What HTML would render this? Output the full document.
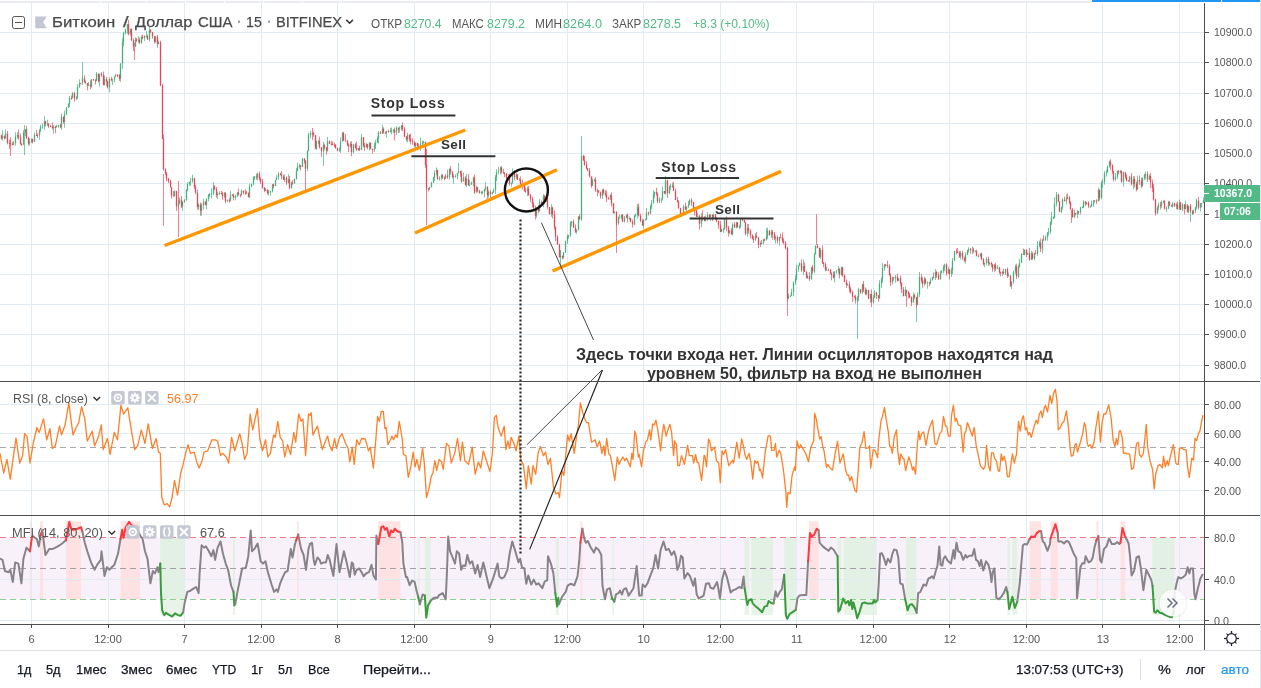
<!DOCTYPE html><html><head><meta charset="utf-8"><title>BTCUSD chart</title><style>
html,body{margin:0;padding:0;background:#fff}
#c{position:relative;width:1261px;height:688px;overflow:hidden;background:#fff;font-family:"Liberation Sans", sans-serif}
#c svg{position:absolute;left:0;top:0}
.t{position:absolute;white-space:nowrap;line-height:20px;height:20px;transform-origin:0 50%}
.b{position:absolute;background:#53b987;z-index:2}
</style></head><body><div id="c">
<svg width="1261" height="688" viewBox="0 0 1261 688">
<rect x="0" y="537.5" width="1204" height="62" fill="#f8f1f9"/>
<rect x="30.0" y="521.3" width="2.0" height="16.2" fill="#ffe4e4"/><rect x="30.0" y="537.5" width="2.0" height="62" fill="#fee1e3"/>
<rect x="40.0" y="521.3" width="3.0" height="16.2" fill="#ffe4e4"/><rect x="40.0" y="537.5" width="3.0" height="62" fill="#fee1e3"/>
<rect x="66.0" y="521.3" width="15.0" height="16.2" fill="#ffe4e4"/><rect x="66.0" y="537.5" width="15.0" height="62" fill="#fee1e3"/>
<rect x="120.5" y="521.3" width="19.5" height="16.2" fill="#ffe4e4"/><rect x="120.5" y="537.5" width="19.5" height="62" fill="#fee1e3"/>
<rect x="297.0" y="521.3" width="1.7" height="16.2" fill="#ffe4e4"/><rect x="297.0" y="537.5" width="1.7" height="62" fill="#fee1e3"/>
<rect x="378.3" y="521.3" width="22.2" height="16.2" fill="#ffe4e4"/><rect x="378.3" y="537.5" width="22.2" height="62" fill="#fee1e3"/>
<rect x="580.4" y="521.3" width="2.0" height="16.2" fill="#ffe4e4"/><rect x="580.4" y="537.5" width="2.0" height="62" fill="#fee1e3"/>
<rect x="808.8" y="521.3" width="9.8" height="16.2" fill="#ffe4e4"/><rect x="808.8" y="537.5" width="9.8" height="62" fill="#fee1e3"/>
<rect x="1029.6" y="521.3" width="11.4" height="16.2" fill="#ffe4e4"/><rect x="1029.6" y="537.5" width="11.4" height="62" fill="#fee1e3"/>
<rect x="1050.5" y="521.3" width="7.3" height="16.2" fill="#ffe4e4"/><rect x="1050.5" y="537.5" width="7.3" height="62" fill="#fee1e3"/>
<rect x="1096.4" y="521.3" width="2.0" height="16.2" fill="#ffe4e4"/><rect x="1096.4" y="537.5" width="2.0" height="62" fill="#fee1e3"/>
<rect x="1120.5" y="521.3" width="4.9" height="16.2" fill="#ffe4e4"/><rect x="1120.5" y="537.5" width="4.9" height="62" fill="#fee1e3"/>
<rect x="160.3" y="537.5" width="23.7" height="62" fill="#e3f0e4"/><rect x="160.3" y="599.5" width="23.7" height="15.5" fill="#e8f4e8"/>
<rect x="233.0" y="537.5" width="2.0" height="62" fill="#e3f0e4"/><rect x="233.0" y="599.5" width="2.0" height="15.5" fill="#e8f4e8"/>
<rect x="418.0" y="537.5" width="1.5" height="62" fill="#e3f0e4"/><rect x="418.0" y="599.5" width="1.5" height="15.5" fill="#e8f4e8"/>
<rect x="425.0" y="537.5" width="5.5" height="62" fill="#e3f0e4"/><rect x="425.0" y="599.5" width="5.5" height="15.5" fill="#e8f4e8"/>
<rect x="555.8" y="537.5" width="3.2" height="62" fill="#e3f0e4"/><rect x="555.8" y="599.5" width="3.2" height="15.5" fill="#e8f4e8"/>
<rect x="612.4" y="537.5" width="1.6" height="62" fill="#e3f0e4"/><rect x="612.4" y="599.5" width="1.6" height="15.5" fill="#e8f4e8"/>
<rect x="744.6" y="537.5" width="4.4" height="62" fill="#e3f0e4"/><rect x="744.6" y="599.5" width="4.4" height="15.5" fill="#e8f4e8"/>
<rect x="751.5" y="537.5" width="21.5" height="62" fill="#e3f0e4"/><rect x="751.5" y="599.5" width="21.5" height="15.5" fill="#e8f4e8"/>
<rect x="784.2" y="537.5" width="11.6" height="62" fill="#e3f0e4"/><rect x="784.2" y="599.5" width="11.6" height="15.5" fill="#e8f4e8"/>
<rect x="837.5" y="537.5" width="3.7" height="62" fill="#e3f0e4"/><rect x="837.5" y="599.5" width="3.7" height="15.5" fill="#e8f4e8"/>
<rect x="843.7" y="537.5" width="33.2" height="62" fill="#e3f0e4"/><rect x="843.7" y="599.5" width="33.2" height="15.5" fill="#e8f4e8"/>
<rect x="905.6" y="537.5" width="10.6" height="62" fill="#e3f0e4"/><rect x="905.6" y="599.5" width="10.6" height="15.5" fill="#e8f4e8"/>
<rect x="1007.4" y="537.5" width="2.6" height="62" fill="#e3f0e4"/><rect x="1007.4" y="599.5" width="2.6" height="15.5" fill="#e8f4e8"/>
<rect x="1012.3" y="537.5" width="5.0" height="62" fill="#e3f0e4"/><rect x="1012.3" y="599.5" width="5.0" height="15.5" fill="#e8f4e8"/>
<rect x="1152.5" y="537.5" width="22.1" height="62" fill="#e3f0e4"/><rect x="1152.5" y="599.5" width="22.1" height="15.5" fill="#e8f4e8"/>
<path d="M31.5 3V624M108.5 3V624M184.5 3V624M261.5 3V624M337.5 3V624M414.5 3V624M490.5 3V624M567.5 3V624M643.5 3V624M720.5 3V624M796.5 3V624M873.5 3V624M949.5 3V624M1026.5 3V624M1102.5 3V624M1179.5 3V624M0 32.5H1204M0 62.5H1204M0 93.5H1204M0 123.5H1204M0 153.5H1204M0 183.5H1204M0 214.5H1204M0 244.5H1204M0 274.5H1204M0 304.5H1204M0 334.5H1204M0 365.5H1204M0 404.5H1204M0 433.5H1204M0 461.5H1204M0 490.5H1204M0 579.5H1204M0 620.5H1204" stroke="#e1ecf2" stroke-width="1" fill="none" shape-rendering="crispEdges"/>
<path d="M0 447.5H1204" stroke="#a9a9a9" stroke-width="1" stroke-dasharray="6 4" fill="none"/>
<path d="M0 537.5H1204" stroke="#e57f86" stroke-width="1" stroke-dasharray="6 4" fill="none"/>
<path d="M0 568.5H1204" stroke="#a79fa8" stroke-width="1" stroke-dasharray="6 4" fill="none"/>
<path d="M0 599.5H1204" stroke="#8fcf93" stroke-width="1" stroke-dasharray="6 4" fill="none"/>
<path d="M2.5 130.1V140.6M5.5 129.4V138.7M13.5 141.0V145.2M15.5 132.3V145.7M17.5 132.1V138.7M23.5 129.9V145.0M25.5 128.9V136.1M29.5 138.0V145.7M31.5 138.3V143.0M34.5 132.7V142.0M39.5 129.2V139.7M40.5 124.8V132.1M42.5 123.6V128.8M44.5 116.1V129.9M47.5 119.7V126.0M53.5 125.1V133.8M56.5 125.1V127.5M58.5 124.9V127.8M61.5 113.4V129.9M64.5 110.5V127.6M66.5 107.0V115.0M68.5 103.5V107.8M69.5 95.8V107.0M72.5 92.1V98.3M76.5 96.1V100.2M77.5 84.3V99.0M79.5 79.4V87.9M82.5 76.4V85.0M88.5 81.8V86.2M91.5 79.0V87.6M96.5 72.1V81.0M99.5 73.4V86.6M104.5 75.6V85.5M109.5 77.3V92.4M112.5 78.6V85.0M114.5 76.5V82.4M115.5 73.8V76.8M120.5 63.2V81.8M122.5 38.3V68.8M123.5 31.9V46.4M125.5 28.9V34.4M127.5 23.8V33.7M130.5 28.5V35.5M135.5 37.2V47.3M138.5 36.1V43.3M141.5 35.3V43.9M144.5 35.2V41.0M146.5 31.0V37.5M149.5 26.4V41.4M155.5 36.1V42.7M158.5 40.7V44.0M174.5 190.5V196.7M178.5 200.9V207.5M179.5 197.3V204.3M182.5 201.1V210.7M184.5 199.1V202.7M186.5 189.0V200.8M187.5 182.0V191.4M189.5 181.8V185.7M190.5 177.8V186.0M192.5 174.7V182.7M198.5 203.3V210.2M201.5 203.1V215.8M203.5 198.6V209.6M206.5 198.2V209.4M208.5 194.0V201.3M209.5 192.8V197.0M211.5 188.4V198.5M213.5 182.5V195.2M217.5 192.2V199.0M219.5 191.0V195.1M224.5 192.1V197.9M227.5 199.4V201.9M230.5 190.7V201.5M235.5 194.8V200.2M237.5 192.0V197.1M241.5 189.4V195.6M249.5 183.7V198.3M251.5 183.8V187.2M253.5 176.3V185.4M254.5 176.2V180.0M257.5 172.6V180.5M265.5 188.1V191.0M268.5 189.9V195.5M270.5 190.4V195.8M272.5 184.0V192.4M275.5 179.8V186.0M276.5 175.2V180.1M278.5 171.8V179.7M284.5 174.5V182.1M288.5 174.2V183.4M291.5 181.7V188.9M294.5 178.4V184.0M296.5 167.9V179.5M297.5 162.5V171.0M299.5 164.2V168.9M302.5 158.0V167.2M307.5 150.2V170.9M308.5 132.9V151.4M310.5 131.1V138.1M316.5 140.5V149.9M318.5 139.9V144.4M323.5 142.0V151.3M327.5 137.0V151.7M339.5 147.5V151.8M340.5 137.6V153.0M342.5 132.0V141.7M350.5 141.3V147.4M353.5 144.2V153.3M358.5 148.0V150.9M361.5 134.0V150.2M366.5 142.7V147.7M369.5 142.2V150.6M374.5 142.6V151.8M375.5 139.9V149.0M377.5 136.3V142.8M378.5 130.9V143.6M382.5 124.8V134.1M386.5 130.8V137.5M390.5 127.8V132.7M391.5 127.5V134.3M393.5 129.1V133.0M396.5 126.0V135.1M399.5 126.4V132.7M401.5 125.2V130.8M407.5 132.7V142.3M415.5 142.5V148.7M420.5 137.7V150.9M422.5 140.7V145.4M423.5 140.5V143.6M429.5 186.4V190.1M431.5 181.6V187.4M433.5 176.9V182.9M434.5 170.6V180.8M436.5 167.5V175.6M439.5 176.2V180.6M441.5 173.9V180.5M445.5 173.9V178.9M449.5 168.2V179.7M453.5 174.3V183.7M455.5 174.4V177.5M457.5 173.0V179.3M458.5 170.8V173.4M463.5 172.6V181.5M466.5 174.0V187.0M469.5 180.2V186.3M471.5 181.5V184.8M473.5 176.7V186.5M476.5 185.6V192.7M481.5 191.1V194.4M482.5 190.7V194.1M484.5 188.9V197.3M485.5 181.7V190.7M488.5 190.4V197.6M492.5 191.7V194.3M493.5 188.4V192.5M495.5 175.1V194.0M496.5 169.2V181.0M498.5 166.9V174.2M500.5 166.5V174.5M508.5 173.9V178.9M511.5 182.7V186.7M512.5 168.4V183.7M516.5 172.6V179.0M519.5 178.1V180.4M527.5 186.4V196.0M536.5 207.0V217.8M539.5 199.2V211.8M543.5 194.2V207.3M546.5 196.3V201.9M551.5 204.2V216.8M560.5 250.7V258.2M563.5 252.0V258.8M565.5 240.7V252.9M567.5 234.3V243.9M568.5 234.7V238.5M570.5 221.2V236.6M571.5 221.2V226.4M576.5 229.4V233.8M578.5 216.1V230.3M581.5 155.8V220.9M592.5 178.5V185.8M594.5 178.7V181.9M602.5 188.9V199.0M610.5 194.2V200.0M614.5 211.4V213.6M618.5 216.5V224.8M619.5 214.5V218.2M621.5 214.2V219.2M624.5 216.0V222.5M626.5 214.5V218.2M629.5 216.4V220.2M634.5 215.0V225.2M635.5 213.3V216.8M637.5 203.9V218.7M643.5 219.4V228.6M645.5 218.4V220.2M646.5 208.0V219.8M650.5 205.2V214.2M651.5 200.1V208.8M653.5 190.4V203.6M654.5 191.4V197.8M659.5 197.2V203.2M661.5 198.3V203.0M662.5 186.6V200.7M665.5 176.1V194.5M669.5 185.4V194.4M670.5 184.0V189.6M672.5 182.6V187.9M681.5 212.9V217.0M683.5 204.9V214.9M686.5 206.3V210.8M688.5 201.1V208.0M689.5 198.9V204.8M697.5 213.4V216.8M701.5 213.0V227.5M705.5 215.5V221.6M707.5 211.9V221.3M710.5 214.0V221.1M713.5 213.2V218.2M721.5 229.1V232.2M723.5 227.8V232.9M724.5 218.7V229.5M729.5 230.1V234.2M732.5 222.6V235.6M736.5 221.8V228.4M739.5 225.4V229.1M740.5 218.1V228.1M747.5 224.0V236.7M755.5 233.2V241.0M760.5 241.4V247.0M763.5 238.9V244.5M766.5 228.3V240.6M767.5 227.6V238.9M771.5 229.7V237.7M775.5 235.5V243.5M779.5 236.9V245.4M788.5 293.5V298.5M790.5 295.4V297.2M791.5 288.8V295.9M793.5 281.4V296.4M795.5 275.1V285.1M796.5 264.6V280.0M798.5 265.3V271.6M799.5 262.4V266.1M803.5 259.4V275.0M807.5 274.3V278.9M811.5 266.7V279.9M814.5 252.7V273.2M815.5 245.4V254.5M820.5 247.7V259.0M826.5 266.8V271.0M834.5 271.3V282.4M836.5 270.3V273.6M838.5 266.1V273.6M841.5 266.7V275.5M847.5 283.4V285.4M857.5 296.1V302.2M858.5 287.8V301.3M862.5 283.7V293.9M866.5 288.7V295.3M870.5 294.0V302.7M873.5 295.2V303.5M874.5 290.0V298.1M879.5 280.2V299.0M881.5 277.2V288.1M882.5 263.0V282.5M884.5 264.3V270.7M892.5 276.9V284.7M895.5 274.9V282.8M898.5 278.0V281.0M905.5 286.4V296.2M913.5 292.3V302.4M917.5 292.4V305.1M919.5 271.9V297.2M924.5 276.7V285.7M927.5 281.5V288.7M930.5 277.9V284.4M932.5 276.6V280.3M935.5 269.1V280.0M940.5 270.5V279.5M941.5 270.5V273.3M943.5 265.1V273.4M944.5 263.7V271.2M948.5 266.7V274.0M951.5 267.4V277.0M952.5 257.9V274.4M954.5 250.6V261.2M960.5 250.8V259.5M965.5 252.4V263.7M967.5 249.8V255.2M968.5 247.3V252.4M972.5 246.4V254.2M975.5 250.2V251.6M978.5 253.8V257.3M980.5 253.5V257.3M984.5 262.7V267.2M986.5 257.2V265.3M989.5 261.7V265.7M994.5 263.8V272.1M997.5 265.1V269.1M1002.5 270.9V276.1M1005.5 268.7V275.1M1008.5 272.6V276.2M1011.5 281.4V289.0M1013.5 270.5V283.8M1015.5 264.6V273.7M1018.5 264.7V278.1M1019.5 258.7V267.7M1021.5 253.2V262.8M1024.5 249.5V255.3M1027.5 252.7V255.0M1031.5 250.9V260.1M1034.5 252.7V260.5M1037.5 241.0V255.9M1039.5 240.5V247.2M1042.5 238.6V253.4M1045.5 235.3V240.9M1047.5 232.2V240.8M1048.5 227.9V235.5M1050.5 221.3V234.2M1051.5 211.7V224.9M1053.5 216.4V219.0M1054.5 197.4V218.5M1056.5 191.9V206.6M1061.5 206.8V212.9M1062.5 198.1V209.2M1066.5 194.2V204.5M1074.5 209.6V218.3M1077.5 210.0V218.2M1080.5 206.8V214.4M1082.5 206.3V208.3M1083.5 200.1V208.2M1086.5 202.0V204.8M1090.5 205.4V207.8M1091.5 200.5V206.7M1093.5 200.1V207.1M1094.5 200.1V202.8M1098.5 187.8V201.6M1101.5 180.8V199.5M1102.5 178.9V187.4M1104.5 171.2V184.6M1106.5 169.8V176.6M1107.5 165.6V172.3M1109.5 160.5V167.7M1115.5 173.0V181.1M1117.5 170.8V179.1M1120.5 170.0V173.6M1123.5 171.6V186.5M1129.5 176.2V182.5M1133.5 176.0V189.2M1137.5 175.5V189.7M1142.5 177.3V186.7M1144.5 173.7V180.3M1145.5 171.6V179.4M1149.5 174.3V180.0M1157.5 206.4V213.7M1158.5 202.4V210.2M1161.5 200.4V208.0M1163.5 200.6V203.4M1166.5 206.4V212.1M1168.5 200.8V209.1M1172.5 202.1V207.5M1176.5 202.7V209.2M1179.5 199.6V209.7M1182.5 203.1V211.0M1185.5 200.5V209.2M1188.5 205.5V213.2M1193.5 209.6V214.3M1195.5 206.7V213.2M1196.5 198.5V209.3M1200.5 202.9V211.6M1201.5 202.9V207.5M1203.5 197.5V203.4M24.5 125.0V155.0M82.5 62.0V80.0M323.5 148.0V166.0M581.5 136.0V160.0M560.5 250.0V265.0M857.5 300.0V339.0M916.5 300.0V322.0M1190.5 208.0V222.0M458.5 163.0V172.0" stroke="#46b07f" stroke-opacity="0.7" stroke-width="1" fill="none"/>
<path d="M1.5 134.5V139.6M4.5 135.3V139.6M7.5 131.0V144.4M9.5 139.7V148.9M10.5 137.3V145.9M12.5 141.5V145.0M18.5 129.5V139.6M20.5 133.6V144.5M21.5 142.9V146.0M26.5 125.9V139.1M28.5 136.8V145.4M32.5 138.5V143.5M36.5 129.9V135.6M37.5 133.3V138.3M45.5 120.8V126.4M48.5 123.1V128.1M50.5 125.1V127.1M52.5 122.4V129.4M55.5 125.8V133.3M60.5 123.7V128.2M63.5 116.3V123.7M71.5 95.5V99.7M74.5 91.5V101.9M80.5 82.7V83.5M84.5 75.3V82.6M85.5 80.4V83.6M87.5 83.0V90.4M90.5 80.3V89.2M93.5 79.3V80.5M95.5 79.0V84.7M98.5 73.6V82.6M101.5 72.1V76.9M103.5 71.6V85.6M106.5 76.7V85.6M107.5 80.5V88.7M111.5 76.8V81.5M117.5 74.1V77.1M119.5 73.9V80.9M128.5 19.8V35.3M131.5 28.4V41.1M133.5 38.3V51.1M136.5 37.8V42.0M139.5 37.6V43.7M142.5 34.7V39.3M147.5 34.4V39.7M150.5 29.1V33.1M152.5 32.2V38.7M154.5 36.2V43.5M157.5 34.8V47.7M160.5 40.7V86.0M162.5 83.8V139.2M163.5 134.6V170.6M165.5 168.2V175.1M166.5 172.1V181.2M168.5 177.7V183.1M170.5 179.8V187.6M171.5 187.0V198.7M173.5 191.1V195.9M176.5 190.8V210.9M181.5 196.1V208.0M194.5 177.9V188.9M195.5 185.2V194.3M197.5 189.7V209.5M200.5 202.4V215.6M205.5 201.3V205.5M214.5 185.1V190.2M216.5 187.1V197.6M221.5 190.9V194.4M222.5 191.6V199.7M225.5 192.1V203.4M229.5 198.1V202.8M232.5 194.1V195.6M233.5 193.4V200.5M238.5 188.5V195.6M240.5 194.4V197.4M243.5 190.5V194.2M245.5 189.4V194.8M246.5 191.0V193.7M248.5 192.3V197.4M256.5 173.7V179.8M259.5 171.6V180.2M260.5 177.5V184.0M262.5 178.7V188.8M264.5 187.0V192.2M267.5 189.2V194.7M273.5 183.5V188.4M280.5 172.7V175.2M281.5 171.1V179.3M283.5 174.6V180.0M286.5 176.4V184.8M289.5 175.9V189.3M292.5 179.9V185.0M300.5 164.9V170.4M304.5 158.4V163.7M305.5 160.1V171.3M312.5 132.7V134.1M313.5 131.5V136.9M315.5 134.8V148.8M319.5 136.6V148.6M321.5 146.8V156.7M324.5 143.8V149.5M326.5 147.1V154.5M329.5 140.4V144.2M331.5 140.9V145.6M332.5 141.5V145.2M334.5 142.7V147.4M335.5 144.1V148.7M337.5 147.9V151.2M343.5 131.8V141.1M345.5 134.1V141.7M347.5 139.8V146.2M348.5 143.2V152.1M351.5 141.4V156.3M355.5 143.2V148.6M356.5 141.4V151.1M359.5 145.6V151.1M363.5 137.0V147.5M364.5 142.9V151.0M367.5 143.9V149.3M370.5 142.3V149.5M372.5 148.6V153.8M380.5 131.3V134.0M383.5 127.3V133.6M385.5 131.7V133.9M388.5 129.5V132.5M394.5 127.6V140.4M398.5 127.3V133.1M402.5 122.3V130.8M404.5 127.1V137.2M406.5 136.1V141.5M409.5 134.5V141.8M410.5 133.6V144.5M412.5 138.4V144.8M414.5 141.3V146.9M417.5 142.5V147.8M418.5 143.6V149.4M425.5 141.6V167.7M426.5 164.1V190.2M428.5 188.1V191.5M437.5 169.6V180.1M442.5 174.4V178.9M444.5 176.4V180.4M447.5 169.8V179.0M450.5 166.0V174.7M452.5 170.8V178.6M460.5 170.8V176.6M461.5 170.5V182.8M465.5 176.2V185.7M468.5 174.1V185.6M474.5 174.4V193.9M477.5 186.8V192.4M479.5 189.8V193.7M487.5 186.0V200.1M490.5 190.1V198.9M501.5 166.1V173.7M503.5 168.7V173.7M504.5 172.1V177.2M506.5 173.3V181.5M509.5 173.6V185.6M514.5 170.6V180.4M517.5 174.2V180.1M520.5 176.4V185.2M522.5 179.6V189.4M524.5 182.9V191.9M525.5 187.5V192.9M528.5 185.9V195.8M530.5 193.9V202.1M532.5 196.7V207.2M533.5 202.1V209.4M535.5 205.5V219.5M538.5 205.0V213.2M541.5 200.3V206.0M544.5 195.3V202.6M547.5 193.6V209.3M549.5 206.9V214.7M552.5 206.6V218.4M554.5 210.5V229.6M555.5 226.3V241.0M557.5 235.1V244.6M559.5 243.6V257.8M562.5 255.4V259.5M573.5 219.6V228.0M575.5 224.3V233.0M579.5 214.1V220.0M583.5 154.8V160.7M584.5 155.8V165.7M586.5 161.2V169.1M587.5 168.3V171.3M589.5 168.0V177.6M591.5 176.5V188.2M595.5 177.0V192.0M597.5 188.6V196.3M598.5 190.3V192.9M600.5 191.4V198.6M603.5 188.6V194.5M605.5 190.1V196.4M606.5 190.7V202.0M608.5 196.5V199.8M611.5 192.5V206.5M613.5 202.9V213.7M616.5 211.2V225.6M622.5 214.0V222.3M627.5 213.3V222.5M630.5 217.9V222.4M632.5 219.6V227.6M638.5 203.6V216.5M640.5 213.6V222.3M642.5 218.7V226.0M648.5 211.6V215.6M656.5 187.8V195.7M657.5 192.5V203.1M664.5 191.0V194.2M667.5 179.7V198.1M673.5 181.7V190.9M675.5 188.8V200.2M677.5 196.8V202.5M678.5 200.3V208.9M680.5 207.7V215.6M685.5 202.6V210.1M691.5 198.1V205.9M693.5 201.8V208.8M694.5 207.3V215.6M696.5 209.2V217.0M699.5 214.7V229.4M702.5 210.3V220.8M704.5 216.2V221.2M709.5 213.9V218.0M712.5 214.2V221.0M715.5 214.2V219.9M716.5 217.1V222.3M718.5 220.5V228.9M720.5 221.1V232.0M726.5 216.3V231.3M728.5 225.9V236.6M731.5 228.2V234.8M734.5 221.9V227.6M737.5 221.9V227.5M742.5 217.7V221.2M744.5 219.6V222.6M745.5 222.5V235.5M748.5 224.1V233.9M750.5 229.3V238.5M752.5 234.3V239.3M753.5 236.3V242.9M756.5 231.9V238.1M758.5 237.1V248.2M761.5 240.0V243.9M764.5 238.5V241.0M769.5 230.0V235.9M772.5 229.9V239.6M774.5 231.8V240.3M777.5 235.5V243.6M780.5 233.5V237.4M782.5 232.3V242.9M783.5 238.4V244.5M785.5 240.8V249.6M787.5 247.6V300.9M801.5 259.2V272.1M804.5 262.4V272.0M806.5 271.1V278.5M809.5 272.4V280.8M812.5 265.0V274.2M817.5 244.0V248.4M819.5 247.5V258.0M822.5 245.2V264.0M823.5 262.0V267.3M825.5 262.5V271.3M828.5 268.6V270.2M830.5 268.8V273.9M831.5 272.3V280.3M833.5 271.6V278.4M839.5 268.4V278.6M842.5 266.7V276.9M844.5 274.4V282.0M846.5 279.5V287.8M849.5 281.5V292.3M850.5 287.2V293.6M852.5 290.6V301.9M854.5 295.6V297.8M855.5 294.9V303.6M860.5 288.9V293.7M863.5 280.9V292.1M865.5 287.4V294.9M868.5 289.9V298.9M871.5 289.4V307.0M876.5 292.0V298.9M878.5 295.1V301.9M885.5 263.9V266.7M887.5 260.7V268.0M889.5 264.4V275.5M890.5 273.5V286.0M893.5 277.0V280.7M897.5 273.4V281.7M900.5 275.4V285.5M901.5 282.3V292.9M903.5 287.0V296.4M906.5 289.6V293.3M908.5 291.0V298.4M909.5 292.7V298.3M911.5 296.2V306.0M914.5 293.8V299.0M916.5 297.0V307.5M921.5 273.7V282.8M922.5 277.5V287.8M925.5 277.8V284.0M929.5 282.0V286.3M933.5 272.5V278.2M936.5 270.8V277.8M938.5 272.3V279.9M946.5 263.2V275.7M949.5 269.0V279.5M956.5 248.5V254.5M957.5 248.0V253.2M959.5 250.9V258.0M962.5 250.8V260.2M964.5 256.5V262.2M970.5 247.9V253.7M973.5 247.7V253.2M976.5 249.8V256.4M981.5 252.7V260.2M983.5 258.0V265.4M988.5 256.7V265.5M991.5 261.7V267.0M992.5 263.8V271.8M995.5 262.5V271.0M999.5 267.0V274.0M1000.5 271.6V276.3M1003.5 268.7V274.4M1007.5 267.6V278.0M1010.5 275.4V286.9M1016.5 263.7V279.2M1023.5 248.5V255.0M1026.5 249.4V257.3M1029.5 247.8V260.9M1032.5 252.2V259.8M1035.5 249.9V254.1M1040.5 238.6V252.0M1043.5 235.2V240.6M1058.5 193.7V202.1M1059.5 201.4V212.2M1064.5 196.5V201.5M1067.5 193.3V199.2M1069.5 195.8V204.4M1070.5 201.2V210.1M1072.5 207.9V217.8M1075.5 212.9V215.4M1078.5 211.2V214.5M1085.5 201.3V206.1M1088.5 201.2V208.2M1096.5 199.3V204.1M1099.5 189.7V200.6M1110.5 159.3V169.7M1112.5 164.3V173.8M1113.5 170.6V181.5M1118.5 170.1V174.3M1121.5 170.4V182.9M1125.5 172.2V178.9M1126.5 174.6V181.6M1128.5 180.0V181.1M1131.5 173.1V185.7M1134.5 176.4V187.4M1136.5 181.8V191.4M1139.5 175.5V184.8M1141.5 177.5V188.2M1147.5 171.4V181.9M1150.5 173.0V188.2M1152.5 179.5V191.9M1153.5 184.2V200.7M1155.5 198.7V215.6M1160.5 201.8V209.4M1164.5 199.8V209.6M1169.5 200.9V206.0M1171.5 204.8V206.5M1174.5 202.7V206.6M1177.5 201.4V209.3M1180.5 202.0V210.1M1184.5 204.1V214.4M1187.5 204.0V212.8M1190.5 204.1V211.7M1192.5 210.0V215.0M1198.5 197.0V209.6M163.5 174.0V226.0M178.5 181.0V237.0M10.5 140.0V156.0M134.5 43.0V60.0M305.5 170.0V190.0M312.5 128.0V140.0M426.5 149.0V225.0M616.5 215.0V253.0M787.5 247.0V316.0M816.5 214.0V245.0M906.5 290.0V307.0M1071.5 210.0V223.0" stroke="#eb4d5c" stroke-opacity="0.7" stroke-width="1" fill="none"/>
<path d="M2.5 136.3V138.6M5.5 133.4V138.3M13.5 142.9V144.7M15.5 136.4V142.9M17.5 134.9V136.4M23.5 132.4V144.4M25.5 129.6V132.4M29.5 141.6V143.5M31.5 139.3V141.6M34.5 134.7V141.8M39.5 130.6V135.5M40.5 126.7V130.6M42.5 126.5V127.5M44.5 121.5V126.5M47.5 123.8V124.8M53.5 126.9V128.2M56.5 125.8V127.1M58.5 125.2V126.2M61.5 116.9V127.3M64.5 113.9V122.0M66.5 107.4V113.9M68.5 103.8V107.4M69.5 97.9V103.8M72.5 93.2V98.0M76.5 97.6V98.6M77.5 86.9V97.6M79.5 83.2V86.9M82.5 78.4V83.3M88.5 84.4V85.6M91.5 79.3V86.6M96.5 73.7V80.7M99.5 73.7V81.2M104.5 79.0V84.8M109.5 79.0V87.2M112.5 79.6V80.6M114.5 76.5V79.6M115.5 75.0V76.5M120.5 63.5V78.8M122.5 42.6V63.5M123.5 32.9V42.6M125.5 29.2V32.9M127.5 24.0V29.2M130.5 29.0V33.9M135.5 39.6V46.4M138.5 39.7V40.7M141.5 36.9V42.8M144.5 36.1V38.2M146.5 36.0V37.0M149.5 30.0V39.4M155.5 36.5V41.8M158.5 42.2V43.9M174.5 190.9V195.8M178.5 203.1V206.3M179.5 199.7V203.1M182.5 202.1V206.6M184.5 199.9V202.1M186.5 190.1V199.9M187.5 183.9V190.1M189.5 182.0V183.9M190.5 181.2V182.2M192.5 178.3V181.2M198.5 204.5V207.1M201.5 205.1V210.7M203.5 201.8V205.1M206.5 199.1V205.1M208.5 194.4V199.1M209.5 194.0V195.0M211.5 193.6V194.6M213.5 186.6V193.6M217.5 193.8V195.0M219.5 193.1V194.1M224.5 193.0V196.3M227.5 200.2V201.2M230.5 194.8V200.4M235.5 195.8V197.7M237.5 192.6V195.8M241.5 190.8V195.0M249.5 186.5V197.0M251.5 183.8V186.5M253.5 178.2V183.8M254.5 176.6V178.2M257.5 173.7V177.2M265.5 189.7V190.8M268.5 191.5V192.9M270.5 191.3V192.3M272.5 184.6V191.3M275.5 179.9V185.9M276.5 177.3V179.9M278.5 173.7V177.3M284.5 177.7V179.7M288.5 179.2V182.7M291.5 182.6V187.8M294.5 179.0V183.2M296.5 170.8V179.0M297.5 166.6V170.8M299.5 165.3V166.6M302.5 158.6V167.0M307.5 151.0V168.8M308.5 135.0V151.0M310.5 132.9V135.0M316.5 141.5V148.7M318.5 141.0V142.0M323.5 144.9V151.2M327.5 141.2V150.4M339.5 149.5V150.7M340.5 141.2V149.5M342.5 132.9V141.2M350.5 144.1V146.4M353.5 144.4V152.2M358.5 148.1V149.9M361.5 137.3V149.7M366.5 144.2V146.9M369.5 143.0V147.4M374.5 145.8V149.5M375.5 142.4V145.8M377.5 138.5V142.4M378.5 132.5V138.5M382.5 128.7V133.4M386.5 131.3V133.0M390.5 130.7V132.1M391.5 130.4V131.4M393.5 129.8V130.8M396.5 127.8V132.6M399.5 128.5V129.5M401.5 125.4V128.5M407.5 134.7V139.5M415.5 143.1V145.9M420.5 143.7V148.6M422.5 143.1V144.1M423.5 142.0V143.1M429.5 187.3V188.8M431.5 182.5V187.3M433.5 178.1V182.5M434.5 172.8V178.1M436.5 169.9V172.8M439.5 178.3V179.3M441.5 175.3V178.3M445.5 175.5V178.3M449.5 169.3V177.2M453.5 176.2V177.2M455.5 176.2V177.2M457.5 173.1V176.2M458.5 171.2V173.1M463.5 177.7V181.5M466.5 178.7V184.7M469.5 184.5V185.5M471.5 182.5V184.5M473.5 177.6V182.5M476.5 187.3V192.4M481.5 192.0V193.1M482.5 191.7V192.7M484.5 189.1V191.7M485.5 186.9V189.1M488.5 191.8V195.6M492.5 192.4V194.0M493.5 190.3V192.4M495.5 177.3V190.3M496.5 172.3V177.3M498.5 170.9V172.3M500.5 167.4V170.9M508.5 177.9V178.9M511.5 182.8V183.9M512.5 171.8V182.8M516.5 174.6V177.2M519.5 179.7V180.7M527.5 188.4V191.3M536.5 208.8V215.8M539.5 202.3V211.0M543.5 195.8V204.6M546.5 197.8V201.8M551.5 207.5V213.9M560.5 256.0V257.0M563.5 252.6V257.6M565.5 241.4V252.6M567.5 236.0V241.4M568.5 235.4V236.4M570.5 222.9V235.4M571.5 221.4V222.9M576.5 229.8V231.8M578.5 216.5V229.8M581.5 156.1V219.2M592.5 180.6V185.7M594.5 179.5V180.6M602.5 189.7V196.2M610.5 195.2V198.6M614.5 212.0V213.0M618.5 217.9V223.2M619.5 217.3V218.3M621.5 214.9V217.3M624.5 217.5V221.6M626.5 215.0V217.5M629.5 218.1V219.1M634.5 216.0V224.5M635.5 214.7V216.0M637.5 207.2V214.7M643.5 220.0V225.2M645.5 219.6V220.6M646.5 212.4V219.6M650.5 206.8V213.7M651.5 203.1V206.8M653.5 194.7V203.1M654.5 191.9V194.7M659.5 199.6V201.6M661.5 198.6V199.6M662.5 191.1V198.6M665.5 180.5V193.5M669.5 186.8V193.2M670.5 185.9V186.9M672.5 185.4V186.4M681.5 213.4V214.4M683.5 206.8V213.4M686.5 206.3V209.4M688.5 204.4V206.3M689.5 200.3V204.4M697.5 216.1V217.1M701.5 216.4V223.8M705.5 218.2V221.0M707.5 214.9V218.2M710.5 215.1V217.1M713.5 214.6V217.7M721.5 229.1V231.8M723.5 229.1V230.1M724.5 218.7V229.1M729.5 230.4V232.8M732.5 224.6V233.9M736.5 222.6V227.4M739.5 226.4V227.4M740.5 219.5V226.4M747.5 228.0V233.5M755.5 236.0V239.8M760.5 242.9V244.9M763.5 239.4V243.1M766.5 236.4V239.7M767.5 230.7V236.4M771.5 231.8V235.0M775.5 237.3V238.5M779.5 237.3V240.7M788.5 296.2V298.4M790.5 295.8V296.8M791.5 292.1V295.8M793.5 282.6V292.1M795.5 279.1V282.6M796.5 269.3V279.1M798.5 265.9V269.3M799.5 263.3V265.9M803.5 265.9V270.4M807.5 276.1V277.7M811.5 267.4V279.1M814.5 254.1V271.4M815.5 245.7V254.1M820.5 250.1V256.8M826.5 269.7V270.7M834.5 271.5V277.5M836.5 270.4V271.5M838.5 268.8V270.4M841.5 267.6V274.7M847.5 284.6V285.6M857.5 297.4V300.4M858.5 289.6V297.4M862.5 284.3V292.6M866.5 290.0V294.1M870.5 294.1V298.8M873.5 297.9V302.3M874.5 292.6V297.9M879.5 283.4V298.3M881.5 279.2V283.4M882.5 267.9V279.2M884.5 264.6V267.9M892.5 277.2V282.2M895.5 276.5V278.3M898.5 278.3V280.7M905.5 290.0V296.1M913.5 295.2V302.4M917.5 294.7V304.7M919.5 276.9V294.7M924.5 279.3V284.3M927.5 282.4V283.4M930.5 280.2V283.2M932.5 277.3V280.2M935.5 272.0V277.8M940.5 272.8V279.2M941.5 271.0V272.8M943.5 267.4V271.0M944.5 264.5V267.4M948.5 269.2V273.4M951.5 270.3V273.8M952.5 260.4V270.3M954.5 251.4V260.4M960.5 252.8V256.6M965.5 254.7V260.8M967.5 250.7V254.7M968.5 249.1V250.7M972.5 249.5V250.5M975.5 251.2V252.2M978.5 256.0V257.0M980.5 253.6V256.0M984.5 262.9V264.2M986.5 259.0V262.9M989.5 262.9V263.9M994.5 264.7V268.8M997.5 267.3V268.7M1002.5 272.0V273.6M1005.5 268.9V273.2M1008.5 275.5V276.5M1011.5 281.4V286.1M1013.5 271.8V281.4M1015.5 266.6V271.8M1018.5 266.4V276.6M1019.5 262.7V266.4M1021.5 253.8V262.7M1024.5 249.7V254.7M1027.5 253.0V254.6M1031.5 253.5V259.7M1034.5 253.3V258.4M1037.5 245.7V253.8M1039.5 242.8V245.7M1042.5 239.6V248.8M1045.5 237.1V239.7M1047.5 232.7V237.1M1048.5 231.7V232.7M1050.5 222.0V231.7M1051.5 217.4V222.0M1053.5 217.4V218.4M1054.5 203.5V217.4M1056.5 194.4V203.5M1061.5 207.4V211.7M1062.5 199.5V207.4M1066.5 197.4V201.3M1074.5 213.0V217.0M1077.5 211.4V214.1M1080.5 207.5V212.2M1082.5 207.1V208.1M1083.5 201.6V207.1M1086.5 202.7V204.1M1090.5 206.2V207.2M1091.5 203.8V206.2M1093.5 201.3V203.8M1094.5 200.2V201.3M1098.5 189.8V200.7M1101.5 183.1V197.7M1102.5 181.7V183.1M1104.5 173.3V181.7M1106.5 172.2V173.3M1107.5 166.7V172.2M1109.5 161.8V166.7M1115.5 176.8V179.4M1117.5 171.1V176.8M1120.5 171.1V172.3M1123.5 172.3V181.4M1129.5 176.5V180.6M1133.5 179.0V184.2M1137.5 180.0V189.5M1142.5 178.3V185.7M1144.5 174.4V178.3M1145.5 174.2V175.2M1149.5 175.9V179.4M1157.5 207.6V213.5M1158.5 204.8V207.6M1161.5 202.3V205.6M1163.5 201.2V202.3M1166.5 208.2V209.2M1168.5 201.9V208.2M1172.5 203.2V206.4M1176.5 204.4V206.4M1179.5 202.5V209.3M1182.5 204.4V209.9M1185.5 204.7V209.1M1188.5 206.0V211.5M1193.5 210.7V213.4M1195.5 207.3V210.7M1196.5 200.5V207.3M1200.5 203.5V207.5M1201.5 202.9V203.9M1203.5 200.6V202.9" stroke="#46b07f" stroke-width="1.3" fill="none"/>
<path d="M1.5 135.4V138.6M4.5 136.3V138.3M7.5 133.4V143.0M9.5 143.0V144.0M10.5 143.6V144.6M12.5 144.2V145.2M18.5 134.9V137.6M20.5 137.6V143.9M21.5 143.9V144.9M26.5 129.6V138.1M28.5 138.1V143.5M32.5 139.3V141.8M36.5 134.7V135.7M37.5 135.2V136.2M45.5 121.5V124.0M48.5 123.8V126.0M50.5 126.0V127.0M52.5 126.2V128.2M55.5 126.9V127.9M60.5 125.2V127.3M63.5 116.9V122.0M71.5 97.9V98.9M74.5 93.2V98.6M80.5 83.2V84.2M84.5 78.4V82.0M85.5 82.0V83.2M87.5 83.2V85.6M90.5 84.4V86.6M93.5 79.3V80.3M95.5 80.2V81.2M98.5 73.7V81.2M101.5 73.7V74.9M103.5 74.9V84.8M106.5 79.0V81.2M107.5 81.2V87.2M111.5 79.0V80.0M117.5 75.0V76.0M119.5 75.1V78.8M128.5 24.0V33.9M131.5 29.0V40.3M133.5 40.3V46.4M136.5 39.6V40.6M139.5 39.7V42.8M142.5 36.9V38.2M147.5 36.0V39.4M150.5 30.0V32.3M152.5 32.3V36.5M154.5 36.5V41.8M157.5 36.5V43.9M160.5 42.2V85.6M162.5 85.6V138.6M163.5 138.6V169.2M165.5 169.2V173.3M166.5 173.3V178.8M168.5 178.8V181.0M170.5 181.0V187.1M171.5 187.1V195.6M173.5 195.6V196.6M176.5 190.9V206.3M181.5 199.7V206.6M194.5 178.3V187.3M195.5 187.3V192.6M197.5 192.6V207.1M200.5 204.5V210.7M205.5 201.8V205.1M214.5 186.6V189.2M216.5 189.2V195.0M221.5 193.1V194.1M222.5 193.8V196.3M225.5 193.0V201.2M229.5 200.2V201.2M232.5 194.8V195.8M233.5 195.3V197.7M238.5 192.6V194.6M240.5 194.6V195.6M243.5 190.8V192.5M245.5 192.5V193.5M246.5 192.8V193.8M248.5 193.3V197.0M256.5 176.6V177.6M259.5 173.7V178.8M260.5 178.8V181.7M262.5 181.7V187.8M264.5 187.8V190.8M267.5 189.7V192.9M273.5 184.6V185.9M280.5 173.7V174.7M281.5 174.5V176.3M283.5 176.3V179.7M286.5 177.7V182.7M289.5 179.2V187.8M292.5 182.6V183.6M300.5 165.3V167.0M304.5 158.6V161.3M305.5 161.3V168.8M312.5 132.9V133.9M313.5 133.0V135.2M315.5 135.2V148.7M319.5 141.0V147.3M321.5 147.3V151.2M324.5 144.9V147.4M326.5 147.4V150.4M329.5 141.2V143.8M331.5 143.8V144.8M332.5 143.9V144.9M334.5 144.7V145.7M335.5 144.7V148.0M337.5 148.0V150.7M343.5 132.9V140.2M345.5 140.2V141.2M347.5 140.9V145.0M348.5 145.0V146.4M351.5 144.1V152.2M355.5 144.4V148.1M356.5 148.1V149.9M359.5 148.1V149.7M363.5 137.3V145.6M364.5 145.6V146.9M367.5 144.2V147.4M370.5 143.0V149.1M372.5 149.1V150.1M380.5 132.5V133.5M383.5 128.7V132.6M385.5 132.6V133.6M388.5 131.3V132.3M394.5 129.8V132.6M398.5 127.8V129.5M402.5 125.4V129.1M404.5 129.1V136.6M406.5 136.6V139.5M409.5 134.7V138.8M410.5 138.8V140.9M412.5 140.9V142.0M414.5 142.0V145.9M417.5 143.1V146.2M418.5 146.2V148.6M425.5 142.0V165.1M426.5 165.1V188.1M428.5 188.1V189.1M437.5 169.9V179.1M442.5 175.3V177.4M444.5 177.4V178.4M447.5 175.5V177.2M450.5 169.3V172.4M452.5 172.4V177.1M460.5 171.2V173.6M461.5 173.6V181.5M465.5 177.7V184.7M468.5 178.7V185.2M474.5 177.6V192.4M477.5 187.3V190.8M479.5 190.8V193.1M487.5 186.9V195.6M490.5 191.8V194.0M501.5 167.4V172.3M503.5 172.3V173.3M504.5 173.2V174.2M506.5 173.8V178.6M509.5 177.9V183.9M514.5 171.8V177.2M517.5 174.6V180.1M520.5 179.7V184.7M522.5 184.7V186.0M524.5 186.0V190.7M525.5 190.7V191.7M528.5 188.4V195.1M530.5 195.1V198.8M532.5 198.8V203.7M533.5 203.7V207.7M535.5 207.7V215.8M538.5 208.8V211.0M541.5 202.3V204.6M544.5 195.8V201.8M547.5 197.8V207.1M549.5 207.1V213.9M552.5 207.5V214.6M554.5 214.6V227.5M555.5 227.5V236.8M557.5 236.8V244.4M559.5 244.4V256.9M562.5 256.0V257.6M573.5 221.4V227.4M575.5 227.4V231.8M579.5 216.5V219.2M583.5 156.1V160.6M584.5 160.6V164.7M586.5 164.7V168.3M587.5 168.3V170.3M589.5 170.3V176.5M591.5 176.5V185.7M595.5 179.5V190.3M597.5 190.3V191.3M598.5 190.5V192.4M600.5 192.4V196.2M603.5 189.7V193.2M605.5 193.2V195.0M606.5 195.0V198.1M608.5 198.1V199.1M611.5 195.2V203.2M613.5 203.2V212.9M616.5 212.0V223.2M622.5 214.9V221.6M627.5 215.0V218.6M630.5 218.1V221.7M632.5 221.7V224.5M638.5 207.2V215.8M640.5 215.8V221.1M642.5 221.1V225.2M648.5 212.4V213.7M656.5 191.9V193.6M657.5 193.6V201.6M664.5 191.1V193.5M667.5 180.5V193.2M673.5 185.4V190.7M675.5 190.7V200.0M677.5 200.0V201.9M678.5 201.9V208.0M680.5 208.0V214.2M685.5 206.8V209.4M691.5 200.3V202.3M693.5 202.3V208.3M694.5 208.3V210.7M696.5 210.7V216.3M699.5 216.1V223.8M702.5 216.4V217.4M704.5 217.3V221.0M709.5 214.9V217.1M712.5 215.1V217.7M715.5 214.6V217.8M716.5 217.8V221.0M718.5 221.0V224.7M720.5 224.7V231.8M726.5 218.7V227.4M728.5 227.4V232.8M731.5 230.4V233.9M734.5 224.6V227.4M737.5 222.6V227.0M742.5 219.5V220.5M744.5 219.9V222.5M745.5 222.5V233.5M748.5 228.0V230.8M750.5 230.8V235.3M752.5 235.3V238.8M753.5 238.8V239.8M756.5 236.0V237.5M758.5 237.5V244.9M761.5 242.9V243.9M764.5 239.4V240.4M769.5 230.7V235.0M772.5 231.8V234.2M774.5 234.2V238.5M777.5 237.3V240.7M780.5 237.3V238.3M782.5 237.3V240.8M783.5 240.8V242.7M785.5 242.7V248.2M787.5 248.2V298.4M801.5 263.3V270.4M804.5 265.9V271.9M806.5 271.9V277.7M809.5 276.1V279.1M812.5 267.4V271.4M817.5 245.7V247.9M819.5 247.9V256.8M822.5 250.1V262.5M823.5 262.5V264.1M825.5 264.1V269.8M828.5 269.7V270.7M830.5 270.0V273.4M831.5 273.4V275.1M833.5 275.1V277.5M839.5 268.8V274.7M842.5 267.6V275.5M844.5 275.5V281.9M846.5 281.9V285.1M849.5 284.6V288.6M850.5 288.6V292.3M852.5 292.3V296.2M854.5 296.2V297.3M855.5 297.3V300.4M860.5 289.6V292.6M863.5 284.3V290.1M865.5 290.1V294.1M868.5 290.0V298.8M871.5 294.1V302.3M876.5 292.6V295.5M878.5 295.5V298.3M885.5 264.6V265.6M887.5 264.9V266.0M889.5 266.0V274.9M890.5 274.9V282.2M893.5 277.2V278.3M897.5 276.5V280.7M900.5 278.3V283.3M901.5 283.3V289.3M903.5 289.3V296.1M906.5 290.0V292.3M908.5 292.3V294.2M909.5 294.2V297.3M911.5 297.3V302.4M914.5 295.2V297.2M916.5 297.2V304.7M921.5 276.9V280.7M922.5 280.7V284.3M925.5 279.3V282.8M929.5 282.4V283.4M933.5 277.3V278.3M936.5 272.0V275.2M938.5 275.2V279.2M946.5 264.5V273.4M949.5 269.2V273.8M956.5 251.4V252.4M957.5 252.0V253.0M959.5 252.4V256.6M962.5 252.8V257.9M964.5 257.9V260.8M970.5 249.1V250.1M973.5 249.5V251.2M976.5 251.2V256.1M981.5 253.6V259.4M983.5 259.4V264.2M988.5 259.0V263.4M991.5 262.9V264.5M992.5 264.5V268.8M995.5 264.7V268.7M999.5 267.3V272.2M1000.5 272.2V273.6M1003.5 272.0V273.2M1007.5 268.9V276.1M1010.5 275.5V286.1M1016.5 266.6V276.6M1023.5 253.8V254.8M1026.5 249.7V254.6M1029.5 253.0V259.7M1032.5 253.5V258.4M1035.5 253.3V254.3M1040.5 242.8V248.8M1043.5 239.6V240.6M1058.5 194.4V201.7M1059.5 201.7V211.7M1064.5 199.5V201.3M1067.5 197.4V198.4M1069.5 197.6V202.7M1070.5 202.7V209.4M1072.5 209.4V217.0M1075.5 213.0V214.1M1078.5 211.4V212.4M1085.5 201.6V204.1M1088.5 202.7V206.3M1096.5 200.2V201.2M1099.5 189.8V197.7M1110.5 161.8V165.0M1112.5 165.0V171.6M1113.5 171.6V179.4M1118.5 171.1V172.3M1121.5 171.1V181.4M1125.5 172.3V176.7M1126.5 176.7V180.6M1128.5 180.6V181.6M1131.5 176.5V184.2M1134.5 179.0V183.7M1136.5 183.7V189.5M1139.5 180.0V181.3M1141.5 181.3V185.7M1147.5 174.2V179.4M1150.5 175.9V182.5M1152.5 182.5V187.9M1153.5 187.9V199.5M1155.5 199.5V213.5M1160.5 204.8V205.8M1164.5 201.2V208.7M1169.5 201.9V205.3M1171.5 205.3V206.4M1174.5 203.2V206.4M1177.5 204.4V209.3M1180.5 202.5V209.9M1184.5 204.4V209.1M1187.5 204.7V211.5M1190.5 206.0V211.5M1192.5 211.5V213.4M1198.5 200.5V207.5" stroke="#e8455a" stroke-width="1.3" fill="none"/>
<polyline points="0.0,453.3 3.7,473.0 6.9,459.4 10.3,479.1 13.5,455.7 16.0,438.0 19.7,463.1 22.6,455.7 24.6,433.6 27.0,436.1 30.0,463.1 33.2,443.5 36.9,427.5 39.3,432.4 43.5,418.9 46.7,439.8 49.9,428.7 52.4,448.4 55.3,445.9 59.5,426.2 61.5,434.9 65.1,425.0 68.8,402.9 73.0,434.9 76.2,427.5 78.7,422.6 81.6,406.6 84.8,418.9 87.3,441.0 92.2,431.2 94.6,445.9 98.3,437.3 101.3,425.0 103.2,449.6 107.4,438.5 110.1,454.5 114.3,432.4 117.5,439.8 120.9,405.4 123.6,414.0 127.8,407.8 131.5,431.2 134.7,449.6 137.7,445.9 141.3,429.9 145.0,443.5 148.2,423.8 152.4,448.4 156.1,438.5 158.6,452.1 160.3,453.3 161.8,497.5 164.2,504.9 167.2,503.7 169.6,506.9 172.1,497.5 174.5,480.3 177.5,495.1 180.7,473.0 183.1,464.4 185.6,453.3 188.1,444.7 190.5,453.3 194.2,452.1 196.7,461.9 199.1,468.0 202.1,460.7 204.0,452.1 207.7,450.8 211.9,439.8 215.1,439.8 217.6,441.0 220.5,455.7 222.5,453.3 226.2,457.0 228.6,463.1 231.6,437.3 234.8,450.8 239.7,433.6 242.1,443.5 244.6,459.4 247.1,453.3 250.2,414.0 252.7,429.9 257.4,408.5 259.8,438.5 262.5,450.8 265.5,439.8 267.9,457.0 270.4,453.3 273.6,434.9 275.3,437.3 277.8,421.3 280.2,437.3 282.7,441.0 284.7,457.0 287.6,444.7 290.6,454.5 293.8,432.4 295.7,442.2 298.7,414.0 301.1,421.3 302.9,418.9 305.6,455.7 308.5,414.0 310.0,415.2 311.2,412.7 312.9,434.9 317.4,426.2 322.3,449.6 326.0,439.8 327.7,436.1 329.7,445.9 332.1,450.8 334.6,438.5 336.5,448.4 339.5,437.3 342.0,433.6 345.6,443.5 348.1,448.4 349.8,461.9 352.3,447.1 354.2,464.4 356.7,439.8 359.2,444.7 361.6,438.5 365.3,439.0 368.5,450.8 370.2,447.1 373.4,468.0 375.9,438.5 377.6,416.4 379.3,421.3 381.3,411.5 383.3,411.5 385.0,428.7 386.2,427.5 387.9,444.7 389.9,441.0 391.9,436.1 393.6,439.8 395.5,434.9 397.3,437.3 399.2,421.3 402.2,438.5 403.4,454.5 405.9,455.7 408.3,477.4 410.8,466.8 413.2,452.1 415.0,466.8 416.9,459.4 419.4,470.5 422.6,448.4 424.3,463.1 426.5,497.5 429.2,487.7 431.2,476.6 432.9,473.0 434.9,460.7 436.6,470.5 439.1,459.4 441.5,461.9 443.2,469.3 446.4,443.5 448.9,445.9 451.3,463.1 455.0,452.1 457.5,438.5 460.4,460.7 462.4,442.2 464.9,460.7 468.6,464.4 472.2,447.1 475.2,474.2 478.4,461.9 480.8,468.0 483.3,450.8 486.5,460.7 489.9,471.7 492.4,453.3 494.4,417.6 496.3,415.2 498.1,427.5 501.2,436.1 504.2,426.2 505.9,449.6 507.9,441.0 509.6,448.4 511.1,437.3 514.0,443.5 516.0,450.8 518.9,436.1 520.9,460.7 523.4,464.4 526.3,488.9 528.3,465.6 531.2,484.0 533.0,465.6 535.7,474.2 538.1,453.3 540.3,446.4 543.5,455.7 545.5,452.1 548.0,464.4 550.4,458.2 553.4,486.5 555.8,493.8 558.3,492.6 559.5,497.5 562.0,470.5 563.9,475.4 565.7,455.7 567.6,434.9 569.3,441.0 571.1,433.6 574.3,453.3 576.7,434.9 578.4,425.0 580.4,402.9 582.4,411.5 584.8,418.9 586.5,422.6 588.5,422.6 591.5,442.2 595.2,439.8 597.1,447.1 599.6,441.0 602.0,453.3 603.8,445.9 605.0,455.7 606.7,438.5 608.7,453.3 610.4,455.7 613.6,473.0 614.8,480.3 617.3,457.0 619.0,464.4 620.0,461.9 622.9,457.0 624.9,460.7 626.6,458.2 630.3,466.8 631.8,453.3 633.0,459.4 634.7,431.2 636.0,434.9 638.4,457.0 639.2,454.5 641.6,466.8 643.4,450.8 645.8,442.2 647.5,439.8 649.5,429.9 650.7,439.8 652.7,423.8 654.4,425.0 655.9,420.1 657.6,428.7 660.6,450.8 662.3,433.6 663.8,424.3 666.2,436.1 667.9,429.9 669.9,424.3 671.6,432.4 673.6,455.7 674.6,441.0 676.5,444.7 677.8,465.6 679.5,465.6 681.5,455.7 684.4,464.4 687.6,445.4 689.3,455.7 692.5,455.7 693.7,463.1 695.7,454.5 696.9,461.9 698.7,463.1 701.6,480.3 704.1,455.3 704.8,455.7 706.5,466.8 708.5,439.0 709.7,441.0 711.4,450.8 714.6,447.1 716.4,460.7 718.8,463.1 720.3,482.8 722.0,450.8 723.7,454.5 725.7,449.6 728.7,465.6 732.6,460.2 733.6,463.1 736.8,442.2 739.2,458.2 741.7,439.0 743.4,445.9 744.9,454.5 746.6,459.4 749.1,453.3 751.0,463.1 752.7,479.1 754.7,460.7 756.4,463.1 757.7,461.2 759.6,470.5 760.6,469.3 762.6,477.9 765.0,453.3 768.2,435.6 770.4,436.1 771.7,450.3 774.1,450.3 775.4,443.5 776.8,457.0 779.3,450.3 781.0,454.5 783.5,470.5 785.9,492.6 786.7,507.4 787.9,492.6 790.1,493.8 792.1,475.4 794.5,466.8 795.3,470.5 797.0,441.0 799.0,448.4 800.7,444.7 803.1,448.9 806.1,454.5 808.5,461.9 810.5,448.4 813.7,440.5 814.7,413.5 816.2,418.9 819.6,439.0 821.1,436.6 822.8,447.1 824.0,450.8 826.5,467.5 827.7,464.4 830.2,468.0 832.6,470.0 835.1,453.3 837.6,441.5 840.0,463.1 843.2,453.8 845.7,470.5 847.4,475.4 848.6,474.9 849.8,480.8 851.6,476.6 854.8,490.2 856.5,492.1 858.4,468.0 859.7,447.9 862.1,442.2 864.1,431.7 865.8,448.4 868.3,447.9 869.5,445.9 870.7,468.0 873.2,449.6 875.2,450.8 877.6,457.7 878.6,441.0 881.1,420.1 882.5,416.4 884.5,407.3 886.2,419.4 888.4,432.4 889.7,446.4 890.9,447.1 892.4,453.3 894.1,437.3 896.5,429.9 897.8,450.8 899.5,464.4 900.7,453.8 902.7,458.2 903.9,458.7 905.6,470.5 908.8,457.0 911.3,464.4 912.5,470.0 913.8,466.8 915.5,474.2 917.4,443.5 918.7,431.2 919.9,439.8 921.6,433.6 923.6,431.9 926.0,445.4 928.5,431.2 930.0,426.2 932.5,420.1 934.9,443.5 936.6,444.7 939.8,433.6 941.8,431.2 943.5,416.4 945.5,426.2 946.7,426.2 948.4,436.1 950.2,436.1 951.6,415.2 953.4,405.4 955.1,421.3 956.3,418.4 958.3,425.0 960.7,425.8 963.2,452.1 964.4,433.6 965.9,431.2 967.4,422.6 970.6,431.2 972.3,436.1 974.2,427.5 976.2,445.9 977.9,453.3 980.4,465.6 983.6,469.3 985.3,465.6 986.5,445.4 988.5,465.6 990.2,471.0 991.5,452.8 993.4,452.8 994.7,458.7 996.4,460.7 998.3,471.0 999.6,471.0 1001.3,453.8 1002.5,460.7 1004.2,456.2 1005.7,461.9 1007.4,476.6 1009.2,476.6 1012.4,453.8 1014.3,463.1 1016.5,453.8 1018.5,421.3 1020.2,431.2 1022.2,418.4 1023.4,415.9 1025.4,429.9 1026.6,427.5 1028.3,434.9 1029.6,432.4 1031.3,437.3 1034.5,425.0 1036.2,420.1 1037.7,423.8 1039.4,414.0 1041.1,411.0 1042.3,417.6 1044.3,407.8 1045.5,405.4 1047.5,412.0 1050.0,395.5 1051.7,403.6 1053.6,393.1 1055.4,389.4 1057.1,401.7 1058.3,429.9 1060.3,427.5 1062.0,423.3 1064.0,421.3 1066.4,410.8 1068.2,425.0 1070.1,447.9 1071.3,456.2 1073.1,455.3 1075.0,444.7 1076.3,443.5 1077.5,452.1 1080.0,443.5 1082.4,434.9 1084.4,422.6 1085.6,426.2 1087.3,443.5 1088.6,446.4 1090.3,444.7 1092.2,448.4 1094.2,441.0 1095.9,427.5 1098.4,411.5 1100.4,442.2 1102.1,422.6 1103.8,414.0 1105.8,414.0 1107.0,410.3 1108.7,404.6 1111.2,418.9 1113.1,439.8 1114.9,446.4 1116.3,438.5 1117.6,444.7 1119.3,431.2 1120.5,430.7 1122.2,437.3 1123.5,453.3 1125.4,452.8 1126.7,453.8 1129.6,453.8 1131.6,469.3 1133.5,468.5 1135.3,453.3 1136.5,443.5 1138.5,442.2 1139.4,454.5 1141.4,457.0 1143.4,453.3 1146.3,424.3 1147.6,447.1 1150.0,460.7 1152.5,469.3 1154.2,488.9 1155.7,474.2 1158.1,465.6 1159.8,464.4 1162.3,468.0 1163.5,456.2 1165.3,466.8 1167.2,460.7 1168.4,465.6 1170.9,454.5 1173.4,444.7 1175.8,463.1 1177.1,464.4 1178.3,464.4 1179.5,448.4 1182.0,447.9 1183.7,449.6 1186.1,449.6 1187.6,466.8 1189.3,477.4 1191.8,458.2 1193.5,460.2 1195.0,438.5 1196.7,440.5 1198.4,433.6 1199.9,431.2 1201.6,421.3 1202.9,415.2" fill="none" stroke="#ff7f27" stroke-width="1.3" stroke-linejoin="round"/>
<polyline points="0.0,558.7 2.5,559.9 4.9,571.0 8.6,572.2 10.3,569.8 12.8,582.1 15.2,562.4 18.4,563.6 21.4,583.3 23.4,558.7 26.5,547.6 30.0,551.3" fill="none" stroke="#888389" stroke-width="2" stroke-linejoin="round" stroke-linecap="round"/>
<polyline points="30.0,551.3 32.0,536.6 33.2,536.6" fill="none" stroke="#fa3a40" stroke-width="2" stroke-linejoin="round" stroke-linecap="round"/>
<polyline points="33.2,536.6 36.9,539.0 38.8,546.4 40.6,535.4" fill="none" stroke="#888389" stroke-width="2" stroke-linejoin="round" stroke-linecap="round"/>
<polyline points="40.6,535.4 42.3,530.4" fill="none" stroke="#fa3a40" stroke-width="2" stroke-linejoin="round" stroke-linecap="round"/>
<polyline points="42.3,530.4 45.5,555.0 49.2,548.9 52.9,548.9 57.8,546.4 61.5,544.0 65.9,540.3" fill="none" stroke="#888389" stroke-width="2" stroke-linejoin="round" stroke-linecap="round"/>
<polyline points="65.9,540.3 69.3,521.8 71.3,529.2 73.7,529.7 77.4,528.7 81.1,527.2 82.4,531.7" fill="none" stroke="#fa3a40" stroke-width="2" stroke-linejoin="round" stroke-linecap="round"/>
<polyline points="82.4,531.7 84.8,542.7 87.3,551.3 91.0,562.4 94.6,569.8 97.1,564.9 100.8,559.9 101.5,551.3 104.5,575.9 106.9,567.3 109.4,569.8 111.8,567.3 114.3,564.9 118.0,553.8 120.5,539.0" fill="none" stroke="#888389" stroke-width="2" stroke-linejoin="round" stroke-linecap="round"/>
<polyline points="120.5,539.0 122.2,529.7 123.6,537.8 125.4,528.0 129.1,521.8 131.5,525.5 135.2,526.7 137.7,530.4" fill="none" stroke="#fa3a40" stroke-width="2" stroke-linejoin="round" stroke-linecap="round"/>
<polyline points="137.7,530.4 140.1,535.4 142.6,539.0 145.0,551.3 147.5,558.7 150.4,583.3 152.9,571.0 154.9,573.5 157.3,567.3 158.6,572.2 160.3,563.6" fill="none" stroke="#888389" stroke-width="2" stroke-linejoin="round" stroke-linecap="round"/>
<polyline points="160.3,563.6 161.0,593.1 162.2,610.3 164.2,615.2 165.9,612.8 169.6,615.2 172.1,616.5 175.0,613.5 178.2,615.2 180.7,615.7 183.1,612.3" fill="none" stroke="#3a9b3d" stroke-width="2" stroke-linejoin="round" stroke-linecap="round"/>
<polyline points="183.1,612.3 184.9,601.7 187.3,591.9 190.5,590.7 194.2,588.2 196.2,587.0 198.6,593.1 199.6,573.5 201.6,545.2 204.0,547.6 206.0,546.4 208.9,551.3 211.4,556.2 213.4,550.1 215.1,559.9 217.6,547.6 220.5,541.5 223.0,553.8 225.7,563.6 228.1,569.8 231.1,585.7 233.5,591.9" fill="none" stroke="#888389" stroke-width="2" stroke-linejoin="round" stroke-linecap="round"/>
<polyline points="233.5,591.9 234.3,605.4 235.3,604.2" fill="none" stroke="#3a9b3d" stroke-width="2" stroke-linejoin="round" stroke-linecap="round"/>
<polyline points="235.3,604.2 237.2,593.1 242.1,568.5 245.8,568.0 248.3,556.2 250.7,530.4 252.0,551.3 254.4,548.9 257.6,543.5 260.6,561.2 263.0,563.6 265.5,561.2 267.9,572.2 271.6,584.5 274.1,591.9 276.5,589.4 277.8,591.9 280.2,583.3 282.7,577.1 285.2,572.2 287.6,571.0 290.8,548.9 292.5,557.5 295.0,544.0 296.2,540.3" fill="none" stroke="#888389" stroke-width="2" stroke-linejoin="round" stroke-linecap="round"/>
<polyline points="296.2,540.3 298.2,534.6" fill="none" stroke="#fa3a40" stroke-width="2" stroke-linejoin="round" stroke-linecap="round"/>
<polyline points="298.2,534.6 301.1,548.9 303.6,555.0 306.0,569.8 308.5,548.9 310.0,544.0" fill="none" stroke="#888389" stroke-width="2" stroke-linejoin="round" stroke-linecap="round"/>
<polyline points="310.0,544.0 312.0,542.7 313.7,559.9 314.9,564.9 317.4,557.5 319.3,559.2 321.1,563.6 323.5,562.4 326.0,562.4 327.7,555.0 329.7,559.9 333.4,575.9 336.5,544.0 339.5,572.2 343.9,551.3 346.9,563.6 349.8,577.1 351.8,562.4 353.0,563.6 354.7,574.7 356.7,569.8 359.2,568.5 361.6,572.2 363.6,576.4 366.0,573.5 369.0,572.2 371.5,564.9 373.4,575.4 375.9,579.6 376.4,535.4 378.3,544.0" fill="none" stroke="#888389" stroke-width="2" stroke-linejoin="round" stroke-linecap="round"/>
<polyline points="378.3,544.0 381.3,527.2 383.3,526.3 385.0,529.7 386.9,528.0 389.2,536.6 391.1,530.4 393.1,532.2 394.8,528.7 397.3,531.2 400.5,532.2" fill="none" stroke="#fa3a40" stroke-width="2" stroke-linejoin="round" stroke-linecap="round"/>
<polyline points="400.5,532.2 402.2,541.5 403.4,563.6 405.9,577.1 407.1,577.1 409.6,585.3 412.0,580.8 414.5,581.6 416.9,591.9 418.2,596.8" fill="none" stroke="#888389" stroke-width="2" stroke-linejoin="round" stroke-linecap="round"/>
<polyline points="418.2,596.8 419.9,604.2" fill="none" stroke="#3a9b3d" stroke-width="2" stroke-linejoin="round" stroke-linecap="round"/>
<polyline points="419.9,604.2 422.6,594.4 424.8,595.6" fill="none" stroke="#888389" stroke-width="2" stroke-linejoin="round" stroke-linecap="round"/>
<polyline points="424.8,595.6 426.3,617.7 428.0,605.4 430.5,601.0" fill="none" stroke="#3a9b3d" stroke-width="2" stroke-linejoin="round" stroke-linecap="round"/>
<polyline points="430.5,601.0 432.9,598.5 435.4,597.5 437.3,598.0 439.1,595.1 442.7,593.1 445.7,599.3 446.9,573.5 448.2,536.6 450.1,551.3 452.6,557.5 455.0,563.6 456.8,551.3 459.2,553.8 461.2,569.8 462.9,565.6 465.4,566.1 467.3,555.0 469.8,563.6 472.2,561.2 475.2,573.5 477.6,564.9 480.1,577.1 483.3,562.4 486.5,575.9 489.4,588.2 493.1,578.4 497.6,563.6 499.3,576.4 501.7,578.4 504.2,577.1 507.4,569.8 509.6,553.8 512.3,541.5 515.3,551.3 518.5,562.4 520.2,558.7 521.9,567.3 524.4,568.5 526.3,583.8 528.3,575.4 531.2,584.5 533.7,579.6 536.2,584.5 538.6,583.3 542.3,588.2 544.8,581.3 547.2,580.3 548.0,556.2 550.9,563.6 553.4,573.5 555.3,593.1" fill="none" stroke="#888389" stroke-width="2" stroke-linejoin="round" stroke-linecap="round"/>
<polyline points="555.3,593.1 557.1,606.6 558.3,598.0 559.0,604.2" fill="none" stroke="#3a9b3d" stroke-width="2" stroke-linejoin="round" stroke-linecap="round"/>
<polyline points="559.0,604.2 562.0,596.8 565.7,591.9 567.6,585.7 570.6,583.8 574.3,585.3 577.5,576.4 579.2,561.2 580.4,542.7" fill="none" stroke="#888389" stroke-width="2" stroke-linejoin="round" stroke-linecap="round"/>
<polyline points="580.4,542.7 582.4,528.7" fill="none" stroke="#fa3a40" stroke-width="2" stroke-linejoin="round" stroke-linecap="round"/>
<polyline points="582.4,528.7 584.1,537.8 585.8,542.7 587.8,541.0 590.2,546.4 593.9,552.6 595.9,547.6 598.8,550.1 601.3,555.0 602.5,585.7 605.0,599.3 607.0,589.4 609.9,588.2 611.9,598.0" fill="none" stroke="#888389" stroke-width="2" stroke-linejoin="round" stroke-linecap="round"/>
<polyline points="611.9,598.0 614.3,601.7" fill="none" stroke="#3a9b3d" stroke-width="2" stroke-linejoin="round" stroke-linecap="round"/>
<polyline points="614.3,601.7 616.0,594.4 618.5,593.1 620.0,590.7" fill="none" stroke="#888389" stroke-width="2" stroke-linejoin="round" stroke-linecap="round"/>
<polyline points="620.0,590.7 622.0,594.4 623.7,589.4 626.1,588.2 628.6,595.6 631.1,591.9 633.5,588.2 636.7,566.1 639.2,595.6 641.6,595.6 642.6,584.5 645.1,587.0 647.5,583.3 650.7,574.7 653.2,568.5 655.6,555.0 658.1,568.5 660.6,550.1 663.5,541.5 666.0,550.1 668.7,548.9 671.6,555.0 674.1,551.3 676.0,557.5 677.3,569.8 679.0,566.1 681.0,555.8 682.7,557.5 684.4,578.4 687.6,573.0 690.1,576.4 693.3,585.7 695.0,578.4 696.7,594.4 698.7,598.5 701.6,596.8 703.6,595.6 706.0,583.8 709.0,583.3 710.5,587.7 713.4,588.7 717.1,582.1 718.3,588.2 720.0,598.5 722.0,580.3 724.5,570.5 726.9,577.1 728.7,584.5 730.6,592.6 733.1,590.2 735.5,589.4 739.2,587.0 741.7,588.2 743.6,576.4 744.6,588.2" fill="none" stroke="#888389" stroke-width="2" stroke-linejoin="round" stroke-linecap="round"/>
<polyline points="744.6,588.2 747.3,604.9 749.1,600.0 751.5,599.3 752.7,603.4 755.2,605.9 758.9,609.1 762.1,612.3 764.5,606.6 767.0,605.9 768.7,601.0 771.2,603.0 773.6,603.4" fill="none" stroke="#3a9b3d" stroke-width="2" stroke-linejoin="round" stroke-linecap="round"/>
<polyline points="773.6,603.4 775.6,591.2 777.3,596.8 779.8,591.9 781.8,589.4 784.2,574.7" fill="none" stroke="#888389" stroke-width="2" stroke-linejoin="round" stroke-linecap="round"/>
<polyline points="784.2,574.7 785.9,615.2 787.2,618.9 789.6,614.0 792.1,612.3 795.8,609.8" fill="none" stroke="#3a9b3d" stroke-width="2" stroke-linejoin="round" stroke-linecap="round"/>
<polyline points="795.8,609.8 797.5,598.0 799.4,595.6 803.1,595.1 806.3,595.1 808.1,561.2" fill="none" stroke="#888389" stroke-width="2" stroke-linejoin="round" stroke-linecap="round"/>
<polyline points="808.1,561.2 810.0,532.9 811.7,536.6 814.2,534.6 816.7,528.7 818.6,530.4" fill="none" stroke="#fa3a40" stroke-width="2" stroke-linejoin="round" stroke-linecap="round"/>
<polyline points="818.6,530.4 819.6,542.7 822.8,546.4 825.3,548.4 828.5,550.8 830.9,547.6 833.9,550.1 836.3,554.3 837.6,556.2" fill="none" stroke="#888389" stroke-width="2" stroke-linejoin="round" stroke-linecap="round"/>
<polyline points="837.6,556.2 838.3,611.6 840.0,609.8 843.2,598.5 845.7,603.4 848.1,601.0 849.4,605.4 851.1,600.0 852.3,609.1 853.5,602.5 855.5,610.3 857.2,618.2 859.7,611.6 862.1,603.4 864.6,602.5 867.1,603.4 872.7,603.4 873.9,600.0 875.2,602.5 877.6,600.0" fill="none" stroke="#3a9b3d" stroke-width="2" stroke-linejoin="round" stroke-linecap="round"/>
<polyline points="877.6,600.0 878.6,585.7 880.1,553.8 881.8,553.3 883.5,556.7 886.0,564.9 887.9,558.7 890.4,562.4 892.4,553.8 894.1,549.4 896.5,550.1 898.3,557.5 900.2,583.3 902.7,584.5 905.2,599.3" fill="none" stroke="#888389" stroke-width="2" stroke-linejoin="round" stroke-linecap="round"/>
<polyline points="905.2,599.3 907.6,610.3 909.6,604.9 912.0,604.2 914.5,607.4 916.7,612.8" fill="none" stroke="#3a9b3d" stroke-width="2" stroke-linejoin="round" stroke-linecap="round"/>
<polyline points="916.7,612.8 918.2,593.1 920.4,591.9 923.6,584.5 926.0,585.7 928.5,578.4 930.0,577.9" fill="none" stroke="#888389" stroke-width="2" stroke-linejoin="round" stroke-linecap="round"/>
<polyline points="930.0,577.9 932.0,576.4 933.7,578.4 936.1,569.8 937.4,566.1 939.3,546.4 940.6,564.9 942.3,565.6 943.5,558.7 945.2,556.2 947.7,560.7 950.9,563.6 953.4,550.1 954.6,558.7 956.5,542.7 958.3,551.3 960.7,552.6 963.2,559.9 965.6,555.0 966.9,557.5 969.3,555.8 972.3,555.8 974.2,548.9 976.0,559.9 977.9,561.2 979.7,566.1 981.1,559.9 983.3,570.5 986.0,561.2 988.5,564.9 990.2,572.2 991.5,582.1 992.7,572.2 994.4,568.5 996.4,598.0 998.8,599.3 1001.3,596.8 1003.7,593.1 1006.2,587.0 1007.4,591.9" fill="none" stroke="#888389" stroke-width="2" stroke-linejoin="round" stroke-linecap="round"/>
<polyline points="1007.4,591.9 1009.2,609.1 1012.4,596.8 1014.8,607.9 1017.3,601.7" fill="none" stroke="#3a9b3d" stroke-width="2" stroke-linejoin="round" stroke-linecap="round"/>
<polyline points="1017.3,601.7 1019.7,583.3 1022.9,545.2 1024.6,544.0 1027.1,544.4 1029.6,539.0" fill="none" stroke="#888389" stroke-width="2" stroke-linejoin="round" stroke-linecap="round"/>
<polyline points="1029.6,539.0 1031.3,536.6 1034.5,537.1 1036.9,532.9 1039.4,531.2 1041.1,531.2" fill="none" stroke="#fa3a40" stroke-width="2" stroke-linejoin="round" stroke-linecap="round"/>
<polyline points="1041.1,531.2 1042.6,541.0 1044.3,542.7 1047.5,550.8 1050.0,544.0 1050.5,538.5" fill="none" stroke="#888389" stroke-width="2" stroke-linejoin="round" stroke-linecap="round"/>
<polyline points="1050.5,538.5 1052.9,531.7 1055.4,524.3 1057.8,532.9" fill="none" stroke="#fa3a40" stroke-width="2" stroke-linejoin="round" stroke-linecap="round"/>
<polyline points="1057.8,532.9 1058.3,541.5 1061.5,541.5 1064.0,543.5 1066.4,541.0 1068.9,542.0 1071.3,547.6 1073.8,553.8 1076.3,558.2 1077.0,598.5 1078.7,583.3 1080.4,567.3 1082.4,563.1 1084.4,563.6 1085.6,556.2 1088.6,562.4 1091.0,561.2 1092.7,557.5 1094.7,546.4 1096.4,540.3" fill="none" stroke="#888389" stroke-width="2" stroke-linejoin="round" stroke-linecap="round"/>
<polyline points="1096.4,540.3 1098.4,536.1" fill="none" stroke="#fa3a40" stroke-width="2" stroke-linejoin="round" stroke-linecap="round"/>
<polyline points="1098.4,536.1 1100.1,559.9 1101.6,562.4 1104.0,548.9 1106.5,546.4 1109.0,538.5 1111.9,544.0 1114.9,544.0 1117.3,542.0 1119.3,544.0 1120.5,542.7" fill="none" stroke="#888389" stroke-width="2" stroke-linejoin="round" stroke-linecap="round"/>
<polyline points="1120.5,542.7 1122.5,528.0 1124.7,535.4 1125.9,537.8" fill="none" stroke="#fa3a40" stroke-width="2" stroke-linejoin="round" stroke-linecap="round"/>
<polyline points="1125.9,537.8 1128.6,543.5 1129.9,555.0 1131.6,575.4 1134.0,571.0 1136.5,557.5 1138.9,556.2 1140.9,568.5 1143.4,590.2 1146.3,569.8 1148.8,574.7 1151.2,579.6 1152.5,585.7" fill="none" stroke="#888389" stroke-width="2" stroke-linejoin="round" stroke-linecap="round"/>
<polyline points="1152.5,585.7 1154.2,611.6 1155.7,612.8 1157.4,610.3 1159.8,612.8 1162.3,613.3 1164.8,614.8 1167.2,615.7 1169.7,616.7 1172.1,617.2 1173.9,610.3" fill="none" stroke="#3a9b3d" stroke-width="2" stroke-linejoin="round" stroke-linecap="round"/>
<polyline points="1173.9,610.3 1174.6,593.1 1176.6,583.3 1178.3,577.1 1180.7,578.4 1183.2,577.1 1185.7,574.7 1187.6,567.3 1189.3,573.5 1190.6,568.5 1193.0,568.5 1194.3,593.1 1195.5,599.3 1197.9,588.2 1200.4,578.4 1202.4,574.7" fill="none" stroke="#888389" stroke-width="2" stroke-linejoin="round" stroke-linecap="round"/>
<path d="M164.6 245.5L465.3 130M415 233L557 169.7M552.6 271L781 171.4" stroke="#ff9800" stroke-width="3.4" stroke-linecap="butt" fill="none"/>
<path d="M371.5 115.5H455.4M411.4 156.3H495.4M655.7 178H739M689.6 218.4H773.5" stroke="#333333" stroke-width="2" fill="none"/>
<circle cx="526.4" cy="190" r="21.5" fill="none" stroke="#111" stroke-width="2.4"/>
<path d="M520.5 219.4V555" stroke="#2a2a2a" stroke-width="2.2" stroke-dasharray="2.1 1.9" fill="none"/>
<path d="M541.4 222.6L593.5 340M602 370L527 444.7" stroke="#333" stroke-width="0.9" fill="none"/>
<path d="M602.5 370L529.7 549.4" stroke="#222" stroke-width="1.15" fill="none"/>
<rect x="1205" y="3" width="55" height="621" fill="#fff"/>
<path d="M0 381.5H1260M0 515.5H1260M0 624.5H1260M1204.5 3V650" stroke="#4e4e4e" stroke-width="1" fill="none" shape-rendering="crispEdges"/>
<path d="M0 650.5H1260" stroke="#dadde6" stroke-width="1" fill="none" shape-rendering="crispEdges"/>
<path d="M1205 32.5H1209M1205 62.5H1209M1205 93.5H1209M1205 123.5H1209M1205 153.5H1209M1205 183.5H1209M1205 214.5H1209M1205 244.5H1209M1205 274.5H1209M1205 304.5H1209M1205 334.5H1209M1205 365.5H1209M1205 404.5H1209M1205 433.5H1209M1205 461.5H1209M1205 490.5H1209M1205 537.5H1209M1205 579.5H1209M1205 620.5H1209M31.5 625V628M108.5 625V628M184.5 625V628M261.5 625V628M337.5 625V628M414.5 625V628M490.5 625V628M567.5 625V628M643.5 625V628M720.5 625V628M796.5 625V628M873.5 625V628M949.5 625V628M1026.5 625V628M1102.5 625V628M1179.5 625V628" stroke="#4e4e4e" stroke-width="1" fill="none" shape-rendering="crispEdges"/>
<rect x="0" y="1.3" width="1092" height="1.3" fill="#dfe2ea"/><rect x="100" y="0" width="1" height="3" fill="#fff"/><rect x="146" y="0" width="1" height="3" fill="#fff"/><rect x="185" y="0" width="1" height="3" fill="#fff"/><rect x="224" y="0" width="1" height="3" fill="#fff"/><rect x="263" y="0" width="1" height="3" fill="#fff"/><rect x="302" y="0" width="1" height="3" fill="#fff"/><rect x="341" y="0" width="1" height="3" fill="#fff"/><rect x="1092" y="0" width="129" height="2" fill="#2196f3"/><rect x="1222" y="0" width="38" height="2" fill="#2196f3"/><rect x="1260" y="0" width="1" height="688" fill="#e4e6ed"/>
<g transform="translate(1231.5,638.5)" stroke="#1c1c28" fill="none"><circle r="4.8" stroke-width="1.2"/><path d="M5.20 0.00L7.50 0.00" stroke-width="1.3"/><path d="M3.68 3.68L4.95 4.95" stroke-width="1.1"/><path d="M0.00 5.20L0.00 7.50" stroke-width="1.3"/><path d="M-3.68 3.68L-4.95 4.95" stroke-width="1.1"/><path d="M-5.20 0.00L-7.50 0.00" stroke-width="1.3"/><path d="M-3.68 -3.68L-4.95 -4.95" stroke-width="1.1"/><path d="M-0.00 -5.20L-0.00 -7.50" stroke-width="1.3"/><path d="M3.68 -3.68L4.95 -4.95" stroke-width="1.1"/></g>
<circle cx="1173" cy="603.5" r="14.5" fill="#000" fill-opacity="0.05"/><circle cx="1173" cy="603" r="13.5" fill="#fff" fill-opacity="0.86"/>
<path d="M1167.5 598.5L1172 603L1167.5 607.5M1172.5 598.5L1177 603L1172.5 607.5" stroke="#6a7288" stroke-width="1.5" fill="none"/>
<g transform="translate(111.2,391)"><rect width="13.5" height="13.5" rx="2" fill="#c5c8d3"/><circle cx="6.75" cy="6.75" r="3.4" fill="none" stroke="#fff" stroke-width="1.7"/><circle cx="6.75" cy="6.75" r="1.3" fill="#fff"/></g><g transform="translate(128.1,391)"><rect width="13.5" height="13.5" rx="2" fill="#c5c8d3"/><circle cx="6.75" cy="6.75" r="2.5" fill="none" stroke="#fff" stroke-width="1.9"/><path d="M9.95 6.75L11.75 6.75" stroke="#fff" stroke-width="1.9"/><path d="M9.01 9.01L10.29 10.29" stroke="#fff" stroke-width="1.9"/><path d="M6.75 9.95L6.75 11.75" stroke="#fff" stroke-width="1.9"/><path d="M4.49 9.01L3.21 10.29" stroke="#fff" stroke-width="1.9"/><path d="M3.55 6.75L1.75 6.75" stroke="#fff" stroke-width="1.9"/><path d="M4.49 4.49L3.21 3.21" stroke="#fff" stroke-width="1.9"/><path d="M6.75 3.55L6.75 1.75" stroke="#fff" stroke-width="1.9"/><path d="M9.01 4.49L10.29 3.21" stroke="#fff" stroke-width="1.9"/></g><g transform="translate(145.1,391)"><rect width="13.5" height="13.5" rx="2" fill="#c5c8d3"/><path d="M2.8 2.8L10.7 10.7M10.7 2.8L2.8 10.7" stroke="#fff" stroke-width="1.9"/></g>
<g transform="translate(126,525.2)"><rect width="13.5" height="13.5" rx="2" fill="#c5c8d3"/><circle cx="6.75" cy="6.75" r="3.4" fill="none" stroke="#fff" stroke-width="1.7"/><circle cx="6.75" cy="6.75" r="1.3" fill="#fff"/></g><g transform="translate(143,525.2)"><rect width="13.5" height="13.5" rx="2" fill="#c5c8d3"/><circle cx="6.75" cy="6.75" r="2.5" fill="none" stroke="#fff" stroke-width="1.9"/><path d="M9.95 6.75L11.75 6.75" stroke="#fff" stroke-width="1.9"/><path d="M9.01 9.01L10.29 10.29" stroke="#fff" stroke-width="1.9"/><path d="M6.75 9.95L6.75 11.75" stroke="#fff" stroke-width="1.9"/><path d="M4.49 9.01L3.21 10.29" stroke="#fff" stroke-width="1.9"/><path d="M3.55 6.75L1.75 6.75" stroke="#fff" stroke-width="1.9"/><path d="M4.49 4.49L3.21 3.21" stroke="#fff" stroke-width="1.9"/><path d="M6.75 3.55L6.75 1.75" stroke="#fff" stroke-width="1.9"/><path d="M9.01 4.49L10.29 3.21" stroke="#fff" stroke-width="1.9"/></g><g transform="translate(160,525.2)"><rect width="13.5" height="13.5" rx="2" fill="#c5c8d3"/><path d="M5.8 2.6Q4.2 2.6 4.2 4.2V5.4Q4.2 6.75 2.8 6.75Q4.2 6.75 4.2 8.1V9.3Q4.2 10.9 5.8 10.9M7.7 2.6Q9.3 2.6 9.3 4.2V5.4Q9.3 6.75 10.7 6.75Q9.3 6.75 9.3 8.1V9.3Q9.3 10.9 7.7 10.9" stroke="#fff" stroke-width="1.6" fill="none"/></g><g transform="translate(177.2,525.2)"><rect width="13.5" height="13.5" rx="2" fill="#c5c8d3"/><path d="M2.8 2.8L10.7 10.7M10.7 2.8L2.8 10.7" stroke="#fff" stroke-width="1.9"/></g>
<path d="M93.5 397L96.8 400.3L100.1 397M108.5 531L111.8 534.3L115.1 531M346.3 19.9L349.6 23.2L352.9 19.9" stroke="#333" stroke-width="1.5" fill="none"/>
<rect x="12.5" y="16.5" width="12" height="12" rx="2" fill="#fff" stroke="#555" stroke-width="1"/><path d="M15 22.5H22" stroke="#555" stroke-width="1"/>
<path d="M35.2 16.4H46.8L43 22.3L46.8 28.3H35.2Z" fill="#c3c6d1"/>
<path d="M1140.5 659V680" stroke="#dadde6" stroke-width="1" fill="none"/>
</svg>
<div class="t" id="t0" style="left:51.7px;top:12.2px;font-size:15px;color:#4a4a4a;transform:scaleX(1.1136);-webkit-text-stroke:0.25px #4a4a4a;">Биткоин</div>
<div class="t" id="t1" style="left:122.7px;top:12.2px;font-size:15px;color:#4a4a4a;transform:scaleX(1.3423);-webkit-text-stroke:0.25px #4a4a4a;">/</div>
<div class="t" id="t2" style="left:135.0px;top:12.2px;font-size:15px;color:#4a4a4a;transform:scaleX(1.0908);-webkit-text-stroke:0.25px #4a4a4a;">Доллар</div>
<div class="t" id="t3" style="left:198.4px;top:12.2px;font-size:15px;color:#4a4a4a;transform:scaleX(0.9973);-webkit-text-stroke:0.25px #4a4a4a;">США</div>
<div class="t" id="t4" style="left:246.3px;top:12.2px;font-size:15px;color:#4a4a4a;transform:scaleX(0.9468);-webkit-text-stroke:0.25px #4a4a4a;">15</div>
<div class="t" id="t5" style="left:275.6px;top:12.2px;font-size:15px;color:#4a4a4a;transform:scaleX(0.9790);-webkit-text-stroke:0.25px #4a4a4a;">BITFINEX</div>
<div class="t" id="t6" style="left:236.9px;top:12.0px;font-size:16px;color:#a3a6b3;font-weight:bold;transform:scaleX(0.9009);">·</div>
<div class="t" id="t7" style="left:266.5px;top:12.0px;font-size:16px;color:#a3a6b3;font-weight:bold;transform:scaleX(0.9009);">·</div>
<div class="t" id="t8" style="left:370.7px;top:14.0px;font-size:12.5px;color:#555;transform:scaleX(0.9398);">ОТКР</div>
<div class="t" id="t9" style="left:404.0px;top:14.0px;font-size:12.5px;color:#53b987;transform:scaleX(0.9860);">8270.4</div>
<div class="t" id="t10" style="left:452.3px;top:14.0px;font-size:12.5px;color:#555;transform:scaleX(0.9077);">МАКС</div>
<div class="t" id="t11" style="left:486.7px;top:14.0px;font-size:12.5px;color:#53b987;transform:scaleX(0.9939);">8279.2</div>
<div class="t" id="t12" style="left:535.0px;top:14.0px;font-size:12.5px;color:#555;transform:scaleX(0.9495);">МИН</div>
<div class="t" id="t13" style="left:563.3px;top:14.0px;font-size:12.5px;color:#53b987;transform:scaleX(1.0200);">8264.0</div>
<div class="t" id="t14" style="left:612.3px;top:14.0px;font-size:12.5px;color:#555;transform:scaleX(0.9329);">ЗАКР</div>
<div class="t" id="t15" style="left:643.3px;top:14.0px;font-size:12.5px;color:#53b987;transform:scaleX(0.9939);">8278.5</div>
<div class="t" id="t16" style="left:692.7px;top:14.0px;font-size:12.5px;color:#53b987;transform:scaleX(0.9669);">+8.3 (+0.10%)</div>
<div class="t" id="t17" style="left:1213.6px;top:22.3px;font-size:11px;color:#555;transform:scaleX(0.9556);">10900.0</div>
<div class="t" id="t18" style="left:1213.6px;top:52.3px;font-size:11px;color:#555;transform:scaleX(0.9556);">10800.0</div>
<div class="t" id="t19" style="left:1213.6px;top:83.3px;font-size:11px;color:#555;transform:scaleX(0.9556);">10700.0</div>
<div class="t" id="t20" style="left:1213.6px;top:113.3px;font-size:11px;color:#555;transform:scaleX(0.9556);">10600.0</div>
<div class="t" id="t21" style="left:1213.6px;top:143.3px;font-size:11px;color:#555;transform:scaleX(0.9556);">10500.0</div>
<div class="t" id="t22" style="left:1213.6px;top:173.3px;font-size:11px;color:#555;transform:scaleX(0.9556);">10400.0</div>
<div class="t" id="t23" style="left:1213.6px;top:204.3px;font-size:11px;color:#555;transform:scaleX(0.9556);">10300.0</div>
<div class="t" id="t24" style="left:1213.6px;top:234.3px;font-size:11px;color:#555;transform:scaleX(0.9556);">10200.0</div>
<div class="t" id="t25" style="left:1213.6px;top:264.3px;font-size:11px;color:#555;transform:scaleX(0.9556);">10100.0</div>
<div class="t" id="t26" style="left:1213.6px;top:294.3px;font-size:11px;color:#555;transform:scaleX(0.9556);">10000.0</div>
<div class="t" id="t27" style="left:1213.6px;top:324.3px;font-size:11px;color:#555;transform:scaleX(0.9508);">9900.0</div>
<div class="t" id="t28" style="left:1213.6px;top:355.3px;font-size:11px;color:#555;transform:scaleX(0.9508);">9800.0</div>
<div class="t" id="t29" style="left:1213.6px;top:395.1px;font-size:11px;color:#555;transform:scaleX(0.9807);">80.00</div>
<div class="t" id="t30" style="left:1213.6px;top:423.5px;font-size:11px;color:#555;transform:scaleX(0.9807);">60.00</div>
<div class="t" id="t31" style="left:1213.6px;top:451.9px;font-size:11px;color:#555;transform:scaleX(0.9807);">40.00</div>
<div class="t" id="t32" style="left:1213.6px;top:480.5px;font-size:11px;color:#555;transform:scaleX(0.9807);">20.00</div>
<div class="t" id="t33" style="left:1213.6px;top:528.0px;font-size:11px;color:#555;transform:scaleX(0.9803);">80.0</div>
<div class="t" id="t34" style="left:1213.6px;top:570.1px;font-size:11px;color:#555;transform:scaleX(0.9803);">40.0</div>
<div class="t" id="t35" style="left:1213.6px;top:610.5px;font-size:11px;color:#555;transform:scaleX(0.9806);">0.0</div>
<div class="t" id="t36" style="left:1213.6px;top:183.0px;font-size:11px;color:#fff;font-weight:bold;transform:scaleX(0.9556);z-index:3;">10367.0</div>
<div class="t" id="t37" style="left:1223.8px;top:200.9px;font-size:11px;color:#fff;font-weight:bold;transform:scaleX(0.9595);z-index:3;">07:06</div>
<div class="t" id="t38" style="left:31.5px;top:628.8px;font-size:11px;color:#555;transform:translateX(-50%);">6</div>
<div class="t" id="t39" style="left:108.0px;top:628.8px;font-size:11px;color:#555;transform:translateX(-50%);">12:00</div>
<div class="t" id="t40" style="left:184.6px;top:628.8px;font-size:11px;color:#555;transform:translateX(-50%);">7</div>
<div class="t" id="t41" style="left:261.1px;top:628.8px;font-size:11px;color:#555;transform:translateX(-50%);">12:00</div>
<div class="t" id="t42" style="left:337.6px;top:628.8px;font-size:11px;color:#555;transform:translateX(-50%);">8</div>
<div class="t" id="t43" style="left:414.1px;top:628.8px;font-size:11px;color:#555;transform:translateX(-50%);">12:00</div>
<div class="t" id="t44" style="left:490.7px;top:628.8px;font-size:11px;color:#555;transform:translateX(-50%);">9</div>
<div class="t" id="t45" style="left:567.2px;top:628.8px;font-size:11px;color:#555;transform:translateX(-50%);">12:00</div>
<div class="t" id="t46" style="left:643.7px;top:628.8px;font-size:11px;color:#555;transform:translateX(-50%);">10</div>
<div class="t" id="t47" style="left:720.3px;top:628.8px;font-size:11px;color:#555;transform:translateX(-50%);">12:00</div>
<div class="t" id="t48" style="left:796.8px;top:628.8px;font-size:11px;color:#555;transform:translateX(-50%);">11</div>
<div class="t" id="t49" style="left:873.3px;top:628.8px;font-size:11px;color:#555;transform:translateX(-50%);">12:00</div>
<div class="t" id="t50" style="left:949.9px;top:628.8px;font-size:11px;color:#555;transform:translateX(-50%);">12</div>
<div class="t" id="t51" style="left:1026.4px;top:628.8px;font-size:11px;color:#555;transform:translateX(-50%);">12:00</div>
<div class="t" id="t52" style="left:1102.9px;top:628.8px;font-size:11px;color:#555;transform:translateX(-50%);">13</div>
<div class="t" id="t53" style="left:1179.5px;top:628.8px;font-size:11px;color:#555;transform:translateX(-50%);">12:00</div>
<div class="t" id="t54" style="left:16.7px;top:660.3px;font-size:13px;color:#131722;transform:scaleX(0.9644);-webkit-text-stroke:0.25px #131722;">1д</div>
<div class="t" id="t55" style="left:46.0px;top:660.3px;font-size:13px;color:#131722;transform:scaleX(0.9846);-webkit-text-stroke:0.25px #131722;">5д</div>
<div class="t" id="t56" style="left:75.7px;top:660.3px;font-size:13px;color:#131722;transform:scaleX(1.0132);-webkit-text-stroke:0.25px #131722;">1мес</div>
<div class="t" id="t57" style="left:120.6px;top:660.3px;font-size:13px;color:#131722;transform:scaleX(1.0499);-webkit-text-stroke:0.25px #131722;">3мес</div>
<div class="t" id="t58" style="left:166.0px;top:660.3px;font-size:13px;color:#131722;transform:scaleX(1.0366);-webkit-text-stroke:0.25px #131722;">6мес</div>
<div class="t" id="t59" style="left:12.5px;top:388.5px;font-size:12px;color:#555;transform:scaleX(1.0318);">RSI (8, close)</div>
<div class="t" id="t60" style="left:167.4px;top:388.5px;font-size:12px;color:#ff7f27;transform:scaleX(1.0522);">56.97</div>
<div class="t" id="t61" style="left:11.8px;top:522.5px;font-size:12px;color:#555;transform:scaleX(1.0659);">MFI (14, 80, 20)</div>
<div class="t" id="t62" style="left:199.8px;top:522.5px;font-size:12px;color:#555;transform:scaleX(1.0617);">67.6</div>
<div class="t" id="t63" style="left:370.7px;top:92.5px;font-size:14px;color:#333;font-weight:bold;letter-spacing:0.79px;">Stop Loss</div>
<div class="t" id="t64" style="left:440.9px;top:135.0px;font-size:13.5px;color:#333;font-weight:bold;letter-spacing:0.39px;">Sell</div>
<div class="t" id="t65" style="left:661.2px;top:156.5px;font-size:14px;color:#333;font-weight:bold;letter-spacing:0.89px;">Stop Loss</div>
<div class="t" id="t66" style="left:715.0px;top:199.5px;font-size:13.5px;color:#333;font-weight:bold;letter-spacing:0.33px;">Sell</div>
<div class="t" id="t67" style="left:575.5px;top:345.0px;font-size:16px;color:#333;font-weight:bold;transform:scaleX(1.0048);">Здесь точки входа нет. Линии осцилляторов находятся над</div>
<div class="t" id="t68" style="left:646.6px;top:364.3px;font-size:16px;color:#333;font-weight:bold;transform:scaleX(1.0050);">уровнем 50, фильтр на вход не выполнен</div>
<div class="t" id="t69" style="left:211.6px;top:660.3px;font-size:13px;color:#131722;transform:scaleX(0.9308);-webkit-text-stroke:0.25px #131722;">YTD</div>
<div class="t" id="t70" style="left:251.4px;top:660.3px;font-size:13px;color:#131722;transform:scaleX(1.0180);-webkit-text-stroke:0.25px #131722;">1г</div>
<div class="t" id="t71" style="left:278.2px;top:660.3px;font-size:13px;color:#131722;transform:scaleX(0.9644);-webkit-text-stroke:0.25px #131722;">5л</div>
<div class="t" id="t72" style="left:307.5px;top:660.3px;font-size:13px;color:#131722;transform:scaleX(0.9685);-webkit-text-stroke:0.25px #131722;">Все</div>
<div class="t" id="t73" style="left:362.8px;top:660.3px;font-size:13px;color:#131722;transform:scaleX(1.0905);-webkit-text-stroke:0.25px #131722;">Перейти...</div>
<div class="t" id="t74" style="left:1016.0px;top:660.3px;font-size:13px;color:#131722;transform:scaleX(1.0295);-webkit-text-stroke:0.25px #131722;">13:07:53 (UTC+3)</div>
<div class="t" id="t75" style="left:1157.6px;top:660.3px;font-size:13px;color:#131722;transform:scaleX(1.1157);-webkit-text-stroke:0.25px #131722;">%</div>
<div class="t" id="t76" style="left:1185.5px;top:660.3px;font-size:13px;color:#131722;transform:scaleX(0.9897);-webkit-text-stroke:0.25px #131722;">лог</div>
<div class="t" id="t77" style="left:1221.3px;top:660.3px;font-size:13px;color:#2196f3;transform:scaleX(1.0413);-webkit-text-stroke:0.2px #2196f3;">авто</div>
<div class="b" style="left:1204px;top:185px;width:56px;height:17px"></div><div class="b" style="left:1220px;top:203px;width:40px;height:17px"></div><div class="b" style="left:1204px;top:193px;width:5px;height:1px;background:#fff"></div>
</div></body></html>
